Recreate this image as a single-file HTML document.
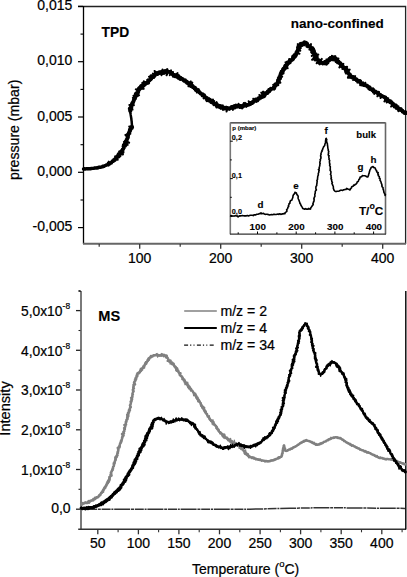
<!DOCTYPE html>
<html><head><meta charset="utf-8"><style>
html,body{margin:0;padding:0;background:#fff;width:407px;height:577px;overflow:hidden;}
svg{display:block;font-family:"Liberation Sans",sans-serif;}
text{stroke:#000;stroke-width:0.22px;}
text[font-weight="bold"]{stroke-width:0.12px;}
</style></head><body>
<svg width="407" height="577" viewBox="0 0 407 577">
<path d="M78 6.5H405.6V244" fill="none" stroke="#222" stroke-width="1.3"/>
<path d="M83.5 6V244" fill="none" stroke="#000" stroke-width="1.3"/>
<path d="M83 243.8H406" fill="none" stroke="#666" stroke-width="2"/>
<path d="M78 6.4H83" stroke="#000" stroke-width="1.2"/>
<text x="72.3" y="10.1" text-anchor="end" font-size="14" font-family="'Liberation Sans', sans-serif">0,015</text>
<path d="M78 61.7H83" stroke="#000" stroke-width="1.2"/>
<text x="72.3" y="65.4" text-anchor="end" font-size="14" font-family="'Liberation Sans', sans-serif">0,010</text>
<path d="M78 117.0H83" stroke="#000" stroke-width="1.2"/>
<text x="72.3" y="120.7" text-anchor="end" font-size="14" font-family="'Liberation Sans', sans-serif">0,005</text>
<path d="M78 172.3H83" stroke="#000" stroke-width="1.2"/>
<text x="72.3" y="176.0" text-anchor="end" font-size="14" font-family="'Liberation Sans', sans-serif">0,000</text>
<path d="M78 227.6H83" stroke="#000" stroke-width="1.2"/>
<text x="72.3" y="231.3" text-anchor="end" font-size="14" font-family="'Liberation Sans', sans-serif">-0,005</text>
<path d="M80.5 34.1H83" stroke="#000" stroke-width="1.1"/>
<path d="M80.5 89.4H83" stroke="#000" stroke-width="1.1"/>
<path d="M80.5 144.7H83" stroke="#000" stroke-width="1.1"/>
<path d="M80.5 200.0H83" stroke="#000" stroke-width="1.1"/>
<path d="M139.7 244V248.8" stroke="#333" stroke-width="1.3"/>
<text x="139.7" y="263.3" text-anchor="middle" font-size="14" font-family="'Liberation Sans', sans-serif">100</text>
<path d="M220.7 244V248.8" stroke="#333" stroke-width="1.3"/>
<text x="220.7" y="263.3" text-anchor="middle" font-size="14" font-family="'Liberation Sans', sans-serif">200</text>
<path d="M301.7 244V248.8" stroke="#333" stroke-width="1.3"/>
<text x="301.7" y="263.3" text-anchor="middle" font-size="14" font-family="'Liberation Sans', sans-serif">300</text>
<path d="M382.7 244V248.8" stroke="#333" stroke-width="1.3"/>
<text x="382.7" y="263.3" text-anchor="middle" font-size="14" font-family="'Liberation Sans', sans-serif">400</text>
<path d="M99.2 244V246.8" stroke="#333" stroke-width="1.2"/>
<path d="M180.2 244V246.8" stroke="#333" stroke-width="1.2"/>
<path d="M261.2 244V246.8" stroke="#333" stroke-width="1.2"/>
<path d="M342.2 244V246.8" stroke="#333" stroke-width="1.2"/>
<text transform="translate(18.9 129.8) rotate(-90)" text-anchor="middle" font-size="14.1" font-family="'Liberation Sans', sans-serif">pressure (mbar)</text>
<text x="101.5" y="36.8" font-size="13.8" font-weight="bold" font-family="'Liberation Sans', sans-serif">TPD</text>
<text x="290.8" y="27.6" font-size="13.5" font-weight="bold" font-family="'Liberation Sans', sans-serif">nano-confined</text>
<path d="M83.5 169.0L83.9 169.0L84.3 168.9L84.8 168.7L85.4 169.0L86.1 168.9L86.8 168.7L87.5 168.9L88.2 168.8L89.0 168.8L89.8 168.7L90.5 168.7L91.0 168.4L91.6 168.5L92.3 168.4L92.9 168.4L93.6 168.3L94.2 168.2L94.9 168.0L95.6 168.0L96.2 168.0L96.9 167.8L97.5 168.0L98.1 167.8L98.6 167.2L99.2 167.2L99.7 167.4L100.5 167.2L101.2 167.1L101.8 166.9L102.5 166.9L102.8 166.3L103.4 166.2L104.0 166.3L104.5 165.9L105.2 165.7L105.7 165.3L106.3 164.9L107.1 164.9L107.7 164.6L108.1 163.9L108.8 163.8L109.5 163.8L109.8 163.1L110.6 163.0L111.1 162.7L111.6 162.3L111.9 161.7L112.7 161.6L113.3 161.3L113.6 160.7L113.8 159.8L114.7 159.9L114.9 159.0L115.8 159.0L115.7 157.9L116.8 158.1L117.0 157.3L117.1 156.5L117.8 156.3L118.4 156.0L118.9 155.5L119.0 154.7L119.3 154.2L120.2 154.0L120.4 153.2L121.0 152.8L121.6 152.4L121.0 151.2L122.1 151.1L122.8 150.8L122.4 150.0L122.5 149.4L123.3 149.2L123.4 148.5L124.0 148.0L123.8 147.0L123.5 146.4L124.2 146.1L124.3 145.6L125.0 145.2L125.0 144.5L124.5 143.7L124.9 143.1L126.0 142.8L126.1 142.2L125.8 141.4L126.3 140.9L126.7 140.3L126.9 139.8L127.3 139.2L127.2 138.5L127.3 137.8L127.4 137.2L128.2 136.7L126.9 135.7L128.0 135.3L128.3 134.7L127.9 133.9L128.8 133.6L128.6 132.9L129.5 132.5L129.3 131.7L130.0 131.2L130.5 130.6L130.5 129.7L130.3 128.8L130.4 128.1L132.0 128.2L131.6 127.3L131.5 126.7L132.1 126.5" fill="none" stroke="#000" stroke-width="3.4" stroke-linejoin="round" stroke-linecap="round"/>
<path d="M83.5 168.9L83.8 169.2L84.1 169.1L84.4 168.8L84.8 168.8L85.2 168.8L85.7 169.0L86.2 168.8L86.7 169.0L87.2 168.4L87.8 169.1L88.3 168.7L88.9 168.9L89.4 168.7L89.9 168.6L90.5 168.7L90.9 168.7L91.3 168.5L91.8 168.4L92.3 168.6L92.7 168.2L93.2 168.0L93.7 168.3L94.2 168.1L94.7 167.8L95.2 167.9L95.7 167.9L96.2 167.7L96.7 167.6L97.2 167.8L97.7 167.9L98.1 167.6L98.5 167.5L99.0 167.6L99.4 167.6L99.7 167.3L100.3 167.4L100.9 167.3L101.3 167.0L101.7 166.7L102.2 166.8L102.6 166.6L103.0 166.6L103.2 166.0L103.6 166.0L104.0 165.8L104.4 165.5L105.0 165.7L105.5 165.6L105.8 165.2L106.5 165.4L106.9 165.1L107.4 164.9L107.8 164.7L108.7 165.6L107.9 162.6L109.5 164.7L109.9 164.5L108.7 161.6L110.6 163.6L110.6 162.7L111.8 163.4L111.2 161.9L111.9 162.0L112.5 162.0L111.9 160.5L113.5 161.6L113.3 160.6L114.1 160.9L113.6 159.6L115.4 160.8L115.3 160.0L115.0 158.9L116.0 159.4L116.9 159.6L117.8 159.8L115.1 156.3L117.6 158.3L117.6 157.6L117.4 156.7L116.9 155.6L119.3 157.3L117.3 154.7L119.4 156.0L120.4 156.3L117.8 153.5L119.4 154.3L118.6 153.1L120.5 153.9L122.2 154.5L123.0 154.4L119.1 151.4L120.7 151.8L122.3 152.3L123.5 152.4L122.5 151.3L121.4 150.1L122.8 150.4L122.6 149.8L122.6 149.4L122.2 148.7L123.7 148.9L123.8 148.4L123.5 147.6L123.6 147.0L122.5 146.1L123.6 146.2L125.8 146.6L124.3 145.5L122.9 144.5L126.5 145.4L125.7 144.5L127.7 144.8L125.4 143.4L125.0 142.7L123.9 141.8L127.5 142.6L129.2 142.7L125.2 140.7L125.6 140.3L127.3 140.4L125.7 139.3L126.5 139.2L126.6 138.7L127.4 138.5L128.6 138.4L127.4 137.5L128.7 137.4L127.2 136.5L128.2 136.3L125.3 134.9L126.3 134.7L129.2 135.2L127.6 134.2L129.2 134.3L129.3 133.8L130.4 133.8L129.9 133.2L130.3 132.9L129.2 131.9L128.7 131.1L128.9 130.5L129.4 130.2L128.9 129.3L129.8 129.1L130.6 128.9L131.2 128.7L130.8 127.9L129.2 126.5L131.5 127.3L132.0 127.2L133.1 127.4L132.7 126.8" fill="none" stroke="#000" stroke-width="2" stroke-linejoin="round" stroke-linecap="round"/>
<path d="M132.0 126.5L132.0 126.1L131.9 125.7L131.9 125.1L131.9 124.5L131.8 123.8L131.8 123.1L131.7 122.4L131.7 121.7L131.6 121.0L131.5 120.4L131.4 119.8L131.4 119.2L131.3 118.5L131.2 117.9L131.1 117.3L131.0 116.7L130.9 116.1L130.8 115.5L130.7 115.0L130.6 114.2L130.4 113.4L130.3 112.6L130.2 112.0L130.1 111.4L130.0 111.0" fill="none" stroke="#000" stroke-width="2.5" stroke-linecap="round"/>
<path d="M130.1 111.0L130.0 110.5L130.3 109.5L129.7 108.8L131.4 108.6L131.3 107.9L130.9 107.1L131.5 106.5L131.5 105.8L131.4 105.0L132.2 104.7L132.0 103.9L132.2 103.4L132.4 102.7L133.1 102.4L133.2 101.7L133.7 101.3L133.6 100.5L134.1 100.0L134.0 99.2L134.9 98.8L134.9 98.1L135.2 97.5L135.5 96.9L135.1 96.0L136.2 95.8L137.0 95.5L135.7 94.2L135.9 93.6L136.3 93.1L137.6 93.1L137.6 92.4L138.3 92.0L138.4 91.4L138.4 90.7L138.7 90.2L138.7 89.5L139.5 89.2L138.9 88.2L139.5 87.8L140.1 87.6L141.0 87.7L140.7 86.3L141.1 85.8L141.8 85.7L142.7 86.1L142.9 85.2L143.8 85.5L143.4 83.9L144.7 84.7L145.2 84.3L144.9 83.0L145.9 83.3L146.7 83.3L146.8 82.5L147.5 82.5L148.3 82.7L148.1 81.5L148.3 80.9L148.7 80.2L149.7 80.2L149.8 79.6L150.2 79.2L150.6 78.8L151.3 78.6L151.1 77.5L151.4 76.9L151.5 76.1L153.3 76.9L153.3 76.1L154.2 76.2L154.2 75.2L154.4 74.6L155.3 74.7L155.7 74.1L155.9 73.3L156.6 73.1L157.7 74.0L157.9 73.2L158.5 73.0L158.9 72.4L159.4 72.1L160.2 72.7L160.8 72.1L161.4 71.7L162.1 71.9L162.7 71.5L163.4 72.0L164.0 72.4L164.3 71.4L165.4 72.3L165.5 71.1L166.2 71.3L167.0 70.9L167.4 71.3L167.9 71.7L168.6 71.7L169.4 71.9L170.0 72.2L170.7 72.5L171.5 72.5L171.9 73.4L172.3 74.0L172.7 74.5L173.3 74.7L173.5 75.8L174.6 75.2L175.3 75.1L175.3 76.5L176.5 75.5L176.5 76.6L177.5 76.1L177.7 77.0L178.7 76.2L178.5 77.7L179.3 77.5L180.2 77.7L180.1 78.8L180.8 78.8L181.4 78.9L182.2 78.9L182.6 79.5L183.2 79.8L183.6 80.5L184.2 80.9L185.1 80.7L185.6 81.1L186.2 81.5L186.9 81.6L187.3 82.2L187.7 82.7L188.0 83.3L188.4 83.8L189.4 83.5L189.6 84.3L190.3 84.3L190.3 85.5L191.3 85.2L191.7 85.8L192.5 85.7L193.0 86.1L193.2 86.8L193.8 87.1L194.1 87.7L195.1 87.6L194.9 88.7L195.8 88.7L195.6 89.9L196.6 89.7L196.7 90.6L197.8 90.3L197.8 91.2L198.6 91.2L199.0 91.7L199.3 92.3L199.9 92.6L200.2 93.1L200.6 93.7L201.1 94.0L201.8 94.1L202.6 94.1L202.9 94.7L203.2 95.2L204.2 95.0L203.9 96.3L204.7 96.3L205.1 96.7L205.3 97.5L205.8 97.8L206.4 98.0L207.2 98.0L207.3 98.8L207.8 99.2L208.6 99.2L208.6 100.2L209.2 100.4L210.2 100.0L210.2 101.0L211.0 100.9L211.0 102.0L211.6 102.3L212.5 102.0L212.9 102.4L213.3 103.0L213.8 103.2L214.0 104.1L214.7 104.1L215.4 104.1L215.8 104.7L216.8 104.0L216.8 105.1L217.3 105.6L218.0 105.5L218.7 105.6L219.0 106.4L219.3 107.1L220.2 106.8L221.0 106.5L221.1 107.7L222.1 106.6L222.4 107.7L223.1 107.5L223.5 108.2L224.3 107.6L224.7 108.6L225.4 108.3L226.1 107.5L226.6 107.5L227.2 108.2L227.8 108.8L228.5 108.3L229.1 108.2L229.6 108.0L230.3 108.3L230.8 108.0L231.4 107.8L231.9 107.1L232.7 107.8L233.4 107.6L233.6 106.4L234.7 107.6L235.0 106.8L235.5 106.2L236.0 105.5L236.8 106.5L237.4 106.4L238.0 105.9L238.6 105.4L239.3 106.5L239.9 105.8L240.5 105.9L241.1 107.2L241.8 106.8L242.3 106.3L242.9 105.6L243.6 106.0L244.0 104.7L244.7 105.6L245.3 105.2L245.8 104.8L246.4 104.6L247.2 105.2L247.8 104.9L248.4 104.7L249.1 104.7L249.4 103.8L249.8 103.3L250.3 102.8L251.1 103.0L251.9 103.0L252.3 102.3L253.1 102.2L253.2 101.3L253.9 101.2L254.4 100.7L254.9 100.3L256.1 101.0L256.4 100.4L256.7 99.5L257.2 99.3L257.9 99.2L258.2 98.4L259.1 98.8L259.3 97.9L260.1 97.8L260.5 97.3L261.1 97.1L261.3 96.5L261.7 96.0L262.4 95.9L262.9 95.6L263.5 95.3L264.1 95.0L264.9 95.0L265.2 94.4L265.4 93.7L266.1 93.6L266.3 92.8L267.3 93.1L267.5 92.4L267.6 91.4L268.7 91.7L269.2 91.4L269.0 89.8L269.9 90.1L270.5 89.9L270.7 89.0L271.4 89.0L271.9 88.6L272.7 88.7L273.1 88.3L274.3 88.4L273.9 87.1L274.8 87.0L274.9 86.2L275.4 85.7L275.3 84.8L275.4 84.2L276.1 83.9L277.0 83.8L277.6 83.4L277.6 82.6L277.8 82.1L277.7 81.3L278.8 81.2L279.0 80.7L278.5 79.8L279.0 79.3L278.9 78.6L280.0 78.5L279.8 77.7L279.9 77.1L280.3 76.6L280.5 76.1L280.4 75.3L280.4 74.6L280.6 74.0L280.7 73.4L281.8 73.2L282.7 73.0L281.5 71.7L282.5 71.5L282.9 71.0L282.7 70.1L283.4 69.8L283.2 69.0L284.3 69.0L284.0 68.2L284.6 67.7L285.2 67.3L285.2 66.6L285.2 65.8L286.0 65.6L286.8 65.5L286.9 64.8L287.4 64.5L287.4 63.7L288.1 63.5L288.7 63.2L288.9 62.5L289.8 62.5L289.6 61.5L289.6 60.8L289.8 60.2L291.2 60.6L291.2 59.8L292.0 59.8L292.3 59.1L293.1 59.1L293.4 58.5L293.3 57.5L293.9 57.2L294.6 57.0L294.1 55.8L295.5 56.1L295.8 55.5L296.1 54.9L296.0 53.9L296.6 53.4L296.3 52.5L297.0 52.2L297.0 51.5L297.6 51.0L297.6 50.2L298.2 49.7L298.9 49.2L298.0 48.1L299.3 47.9L298.2 46.7L298.4 46.2L299.5 46.2L300.1 45.4L300.8 45.0L300.5 43.7L301.6 43.9L302.1 43.6L302.9 43.9L303.2 43.0L303.9 43.0L304.4 42.2L305.1 42.6L305.8 42.7L305.9 43.5L306.9 43.2L307.3 43.8L307.3 44.8L307.2 45.7L308.2 45.7L308.7 46.1L309.5 46.2L309.9 47.1L310.6 47.0L310.8 47.8L311.8 47.9L312.6 48.0L312.6 48.6L313.1 49.1L313.4 49.7L312.4 50.7L312.9 51.3L314.0 51.7L312.8 52.8L313.8 53.2L314.5 53.6L314.1 54.4L314.6 54.9L315.2 55.4L316.0 55.7L315.3 56.7L315.5 57.2L317.0 57.1L315.9 58.3L316.2 58.8L317.0 59.0L317.2 59.6L317.8 59.9L318.4 60.1L318.8 60.7L318.7 61.8L320.0 61.0L320.0 62.0L320.4 62.3L321.4 62.5L322.0 63.0L322.7 62.8L323.1 63.2L323.7 63.5L324.3 63.4L324.6 62.5L326.3 63.8L325.9 61.9L326.6 61.8L327.1 61.2L327.5 60.8L328.6 61.0L328.5 59.9L329.6 60.3L330.1 59.8L330.2 58.4L331.3 59.0L331.6 58.0L332.6 59.4L332.9 57.8L333.6 57.6L334.4 57.2L335.1 57.8L335.6 58.5L336.2 58.7L336.7 59.2L337.0 59.9L337.2 60.7L337.0 61.7L338.6 61.4L338.6 62.2L339.2 62.6L339.9 62.8L340.4 63.4L340.8 63.9L340.7 65.0L341.6 65.1L342.1 65.4L342.2 66.3L342.7 66.6L343.4 66.8L343.6 67.5L344.5 67.5L344.4 68.5L344.9 68.9L345.6 69.2L346.3 69.5L345.8 70.7L346.7 70.9L346.2 72.1L347.8 71.7L347.7 72.6L348.5 72.8L348.7 73.5L348.9 74.2L349.8 74.3L350.0 75.0L350.3 75.5L350.7 75.9L351.1 76.6L351.5 77.1L352.1 77.4L352.7 77.5L353.4 77.6L354.1 77.7L354.5 78.2L355.0 78.6L355.2 79.4L356.0 79.4L356.7 79.4L356.8 80.4L357.6 80.3L358.1 80.6L358.5 81.2L358.8 81.7L360.0 81.2L360.2 81.9L360.4 82.7L361.0 83.0L361.7 83.2L362.1 83.7L362.2 84.7L363.1 84.3L363.5 85.0L364.1 85.2L364.9 84.9L365.4 85.4L366.2 85.3L366.7 85.6L367.4 85.8L367.6 86.8L368.4 86.8L369.0 87.1L369.6 87.3L369.3 88.5L370.1 88.7L370.7 88.9L371.7 89.4L372.2 89.3L372.2 90.2L372.7 90.5L373.6 90.2L373.6 91.4L374.3 91.5L375.2 91.3L375.7 91.7L376.3 92.1L376.7 92.6L377.3 92.9L378.2 92.7L378.0 94.0L378.8 94.0L379.1 94.6L379.7 94.9L380.5 94.8L380.9 95.3L381.4 95.8L381.9 96.1L382.6 96.2L383.2 96.4L383.6 97.0L384.3 97.1L384.7 97.5L385.5 97.4L385.5 98.5L386.3 98.5L386.6 99.1L387.0 99.6L387.4 100.1L387.5 101.0L388.4 100.9L389.3 100.8L389.3 101.6L390.0 101.8L390.2 102.5L391.0 102.5L391.5 102.9L391.9 103.4L392.4 103.7L393.2 103.7L393.3 104.5L393.6 105.1L393.8 105.8L394.7 105.7L395.2 106.1L395.5 106.8L396.1 107.1L396.4 107.9L397.1 107.9L397.8 108.1L398.0 108.9L398.5 109.3L399.5 109.0L399.9 109.6L400.8 109.4L401.0 110.2L401.8 110.4L402.2 111.1L402.8 111.4L403.4 111.9L403.9 112.3L404.3 112.9L404.8 113.1L405.3 113.1L405.8 113.1" fill="none" stroke="#000" stroke-width="3.7" stroke-linejoin="round" stroke-linecap="round"/>
<path d="M130.0 111.0L131.3 111.2L131.1 110.5L131.3 109.7L132.5 109.6L129.3 108.5L130.0 108.2L129.3 107.6L130.8 107.5L132.2 107.3L131.1 106.5L131.9 106.2L129.3 104.9L131.8 105.2L130.8 104.3L133.9 105.2L133.1 104.3L133.4 104.0L132.5 103.0L133.4 103.0L133.7 102.6L132.8 101.6L132.9 101.1L133.5 100.9L133.1 100.3L133.3 99.9L133.9 99.6L133.5 98.9L135.4 99.2L132.9 97.7L135.8 98.3L134.2 97.2L134.5 96.8L133.5 95.8L135.4 96.1L135.5 95.6L136.3 95.4L135.5 94.5L136.6 94.5L139.1 95.2L137.4 93.8L136.4 92.7L138.6 93.3L137.4 92.1L138.6 92.2L138.8 91.7L137.7 90.7L135.8 89.3L138.1 89.8L139.6 89.9L138.5 88.8L139.8 89.0L140.7 89.0L139.1 87.4L141.4 88.7L142.0 88.9L141.7 88.1L142.1 87.9L142.4 87.6L143.7 88.9L142.4 86.0L142.7 85.5L143.5 86.0L142.6 83.9L142.4 82.8L143.4 83.4L144.8 84.6L145.3 84.5L143.8 81.8L143.8 81.2L145.6 82.7L146.1 82.6L146.6 82.5L147.6 83.0L148.5 83.4L147.8 82.0L148.5 82.1L147.2 79.9L147.5 79.5L149.3 80.7L150.2 80.7L150.5 80.5L150.7 80.1L151.2 80.0L151.5 79.7L149.0 76.7L150.5 77.4L152.1 78.3L152.6 78.0L150.6 75.5L153.9 77.9L152.5 75.9L153.1 75.8L153.9 76.0L154.7 76.3L152.9 73.5L155.5 76.1L155.1 74.7L154.8 73.3L155.6 73.7L154.6 71.0L156.2 72.7L157.2 73.6L157.0 72.2L157.7 72.5L158.2 72.6L158.7 72.7L159.6 74.0L159.5 72.4L159.9 71.9L160.7 73.0L161.5 75.2L161.5 71.5L162.2 72.7L162.5 69.6L163.2 73.9L163.6 72.9L164.2 73.8L164.4 71.7L164.5 70.2L166.0 72.7L166.2 72.4L166.3 69.9L167.3 69.1L167.1 72.0L167.7 71.3L166.6 75.3L168.9 71.0L169.3 71.4L169.5 72.2L171.0 70.3L171.0 71.6L169.8 75.2L171.4 73.1L172.2 72.7L173.1 72.0L172.2 74.7L172.6 75.0L173.3 74.7L174.2 74.1L174.1 75.3L174.5 75.6L175.7 74.5L175.1 76.4L177.5 73.0L177.3 74.3L176.9 75.8L177.2 76.3L178.4 75.1L177.7 77.3L177.5 78.4L178.3 77.8L178.9 77.7L178.8 78.8L179.8 78.4L181.0 77.0L180.8 78.2L180.3 79.9L182.1 77.7L181.8 79.1L182.5 78.9L183.2 78.6L183.7 78.8L183.5 80.2L183.8 80.7L184.2 80.9L185.7 79.4L185.4 80.9L185.5 81.8L185.5 82.7L186.0 82.6L186.3 83.0L186.5 83.6L187.1 83.5L188.6 82.1L188.4 83.3L189.3 82.8L190.8 81.4L190.7 82.3L188.5 86.3L191.1 83.5L192.3 82.6L191.6 84.5L190.4 86.9L191.9 85.7L192.0 86.4L192.8 86.0L193.0 86.5L192.3 88.0L193.0 87.9L194.1 87.4L193.6 88.6L193.8 89.0L195.2 88.2L195.1 88.9L195.5 89.3L196.6 88.8L195.4 90.7L196.8 89.8L197.5 89.7L198.7 89.1L198.7 89.8L196.9 92.6L199.3 90.5L198.4 92.2L199.4 91.8L199.1 92.9L199.4 93.3L200.8 92.3L200.8 93.0L200.9 93.7L201.2 94.0L201.7 94.1L202.3 94.1L202.0 95.3L201.8 96.2L202.7 95.8L204.1 94.8L203.6 96.2L204.2 96.2L204.3 96.8L203.6 98.4L205.5 96.8L205.7 97.3L206.7 96.8L206.6 97.6L207.2 97.7L205.9 99.9L207.2 99.1L208.3 98.5L206.7 101.2L209.5 98.4L208.3 100.8L208.5 101.2L209.2 101.1L210.2 100.5L210.4 100.9L210.9 101.0L210.6 102.3L213.0 99.5L212.2 101.6L212.1 102.5L213.0 102.0L214.2 101.0L213.6 102.8L214.3 102.5L213.7 104.3L213.7 105.2L214.9 104.0L216.5 102.1L215.9 104.2L216.7 103.6L216.1 105.5L216.0 106.8L217.2 105.6L216.6 107.6L217.4 107.3L218.3 106.7L219.5 105.2L219.4 106.6L220.6 105.1L219.8 108.0L220.7 107.2L220.6 108.8L221.5 107.8L222.8 105.4L222.3 108.5L222.7 108.9L223.0 109.9L224.1 107.0L224.6 107.1L224.8 108.3L225.4 107.1L225.9 106.7L226.3 107.1L226.6 111.6L227.2 107.7L227.6 107.2L228.1 107.9L228.6 108.4L229.3 109.9L229.7 109.4L230.2 109.1L230.4 108.1L230.9 108.2L231.1 107.1L231.2 106.0L232.9 109.9L232.5 106.9L233.5 108.4L233.4 106.8L233.9 106.9L234.4 106.7L234.4 105.1L235.3 106.5L235.8 106.9L236.3 107.4L236.7 106.9L237.2 107.5L237.6 106.6L238.1 106.2L238.5 103.8L239.0 105.5L239.5 108.0L240.0 106.3L240.5 107.1L240.9 105.9L241.3 105.3L242.1 108.5L242.4 106.4L243.0 107.7L243.3 106.5L243.7 105.5L243.8 103.1L244.7 105.8L244.8 103.7L245.1 102.9L246.4 106.9L246.8 106.1L247.2 105.9L247.5 105.1L247.9 104.8L248.6 105.2L248.9 104.7L249.3 104.4L250.1 104.9L248.7 101.3L251.1 104.6L250.5 102.7L251.9 104.0L252.5 104.1L251.6 101.8L253.1 103.1L253.5 102.9L252.9 101.1L253.5 101.0L254.3 101.4L253.3 98.7L254.8 100.3L255.5 100.8L255.6 99.9L255.4 98.4L256.4 99.5L257.9 101.3L258.2 100.9L257.8 99.2L257.8 98.2L258.7 98.8L259.1 98.6L259.1 97.7L259.7 97.8L260.7 98.5L261.3 98.5L259.4 95.0L262.1 98.0L261.9 96.9L263.0 97.6L262.5 96.2L263.2 96.3L264.5 97.1L261.3 92.6L265.2 96.5L264.5 94.9L263.3 92.7L263.0 91.6L265.7 94.1L265.0 92.5L266.9 94.1L266.7 93.1L266.8 92.5L268.0 93.3L267.8 92.2L268.6 92.5L269.1 92.3L269.1 91.5L269.8 91.7L270.2 91.4L269.2 89.0L270.3 89.8L270.8 89.7L271.0 89.2L270.5 87.8L271.6 88.5L272.6 89.1L272.8 88.7L274.2 89.5L272.9 87.3L273.3 87.1L273.5 86.7L274.1 86.5L274.1 86.0L273.2 84.7L275.6 86.0L276.4 86.1L276.8 85.8L274.9 83.9L276.0 84.2L278.3 85.2L276.6 83.5L277.3 83.4L277.1 82.6L278.5 82.9L278.8 82.5L280.4 82.8L278.7 81.3L278.9 80.9L277.3 79.6L278.3 79.6L278.2 78.9L278.8 78.7L277.9 77.9L280.9 78.6L278.5 77.2L280.1 77.4L278.6 76.3L280.6 76.6L282.2 76.7L279.6 75.2L281.1 75.3L280.8 74.6L281.4 74.3L281.7 74.0L280.8 73.1L281.5 72.9L281.3 72.2L281.2 71.6L281.0 71.0L283.6 71.7L282.0 70.3L283.8 70.7L283.9 70.2L282.5 68.9L284.8 69.7L283.1 68.1L284.8 68.7L285.9 68.8L284.1 67.0L284.2 66.4L284.4 66.0L287.7 68.1L285.5 65.8L285.0 64.7L287.2 66.0L286.6 64.9L287.0 64.7L286.4 63.6L285.5 62.3L287.2 63.1L287.3 62.5L287.0 61.6L287.8 61.7L288.3 61.4L290.2 62.4L290.4 61.9L290.7 61.5L289.8 60.2L289.4 59.0L291.4 60.3L291.9 60.1L292.8 60.4L292.0 59.0L292.2 58.6L293.1 58.7L292.0 57.1L292.5 56.8L294.4 57.9L292.5 55.7L294.1 56.5L295.4 57.0L295.1 56.1L295.6 55.9L294.0 54.2L295.5 54.6L295.6 54.0L297.0 54.3L297.1 53.6L296.7 53.0L299.5 53.8L297.8 52.5L296.8 51.6L296.6 50.9L297.6 50.8L297.0 50.1L300.3 50.8L299.0 49.7L297.9 48.8L297.6 48.1L297.2 47.5L298.5 47.5L300.9 48.1L300.4 47.4L299.4 46.5L299.8 46.3L297.7 44.1L301.2 46.0L300.4 44.6L302.4 46.0L301.1 44.0L301.2 43.4L302.1 44.0L301.8 42.7L303.6 45.1L303.3 43.5L303.8 43.4L304.2 43.3L304.7 42.2L305.0 43.5L305.6 43.2L304.5 45.3L306.3 43.5L306.3 44.2L307.5 43.7L307.8 44.2L308.0 44.7L306.6 46.7L308.3 45.9L307.9 47.3L309.4 46.0L309.8 46.1L311.0 44.0L310.1 48.0L309.4 49.7L311.6 47.2L310.1 49.2L310.8 48.8L313.1 48.1L311.2 49.3L313.7 48.8L313.0 49.6L311.0 50.8L312.7 50.7L314.7 50.6L311.2 52.3L314.9 51.6L313.8 52.5L314.2 52.9L314.1 53.5L315.2 53.5L316.4 53.4L311.8 55.9L315.9 54.7L316.0 55.2L318.3 54.6L315.0 56.6L313.6 57.8L313.7 58.3L312.1 59.8L314.0 59.3L315.7 58.8L316.4 58.9L315.0 60.5L317.0 59.6L317.2 60.2L318.7 59.3L318.0 60.8L316.7 63.3L319.0 61.2L319.0 62.1L321.8 58.9L318.9 63.7L320.1 62.8L319.6 64.4L321.1 63.3L322.4 62.2L323.0 61.7L322.5 64.4L323.1 63.7L323.2 62.2L323.9 63.4L324.0 62.4L325.4 63.9L324.9 62.2L324.7 60.9L326.1 62.0L326.0 61.2L328.3 63.3L326.8 60.7L326.4 59.4L328.0 60.5L328.2 60.0L329.0 60.3L329.4 59.9L328.8 58.1L330.0 59.0L330.4 58.7L330.1 57.0L331.1 57.5L331.9 58.4L331.9 55.7L332.6 56.3L333.2 57.2L333.7 57.8L333.9 58.8L335.3 56.2L334.8 58.7L334.9 59.4L334.2 60.6L336.6 58.8L337.5 58.7L338.5 58.6L336.3 60.8L335.7 61.9L338.4 60.6L337.4 62.0L337.2 62.8L337.4 63.3L339.2 62.3L338.5 63.7L339.5 63.3L340.7 62.6L339.9 64.3L340.1 64.7L341.8 63.5L340.7 65.4L339.4 67.4L343.4 63.9L341.4 66.6L341.6 67.2L342.8 66.6L342.9 67.2L343.8 67.0L342.4 69.0L345.3 67.0L344.7 68.2L347.1 66.7L344.9 69.2L345.2 69.6L347.4 68.4L346.9 69.4L346.0 70.8L347.2 70.4L348.2 70.2L349.7 69.6L347.3 72.1L346.1 73.6L348.6 72.3L348.1 73.3L348.4 73.7L349.1 73.7L349.2 74.2L349.5 74.6L350.7 74.2L347.9 77.2L348.0 77.8L350.5 76.1L349.7 77.8L352.1 75.8L352.1 76.6L351.5 78.2L353.4 76.1L353.9 76.2L353.2 78.1L355.2 76.1L353.1 80.0L354.1 79.3L354.8 79.1L354.9 79.8L356.4 78.5L356.8 78.7L356.0 80.7L356.3 81.1L357.2 80.6L357.7 80.7L358.4 80.4L357.4 82.6L359.8 80.0L359.7 80.9L359.9 81.5L361.0 80.8L361.2 81.3L361.4 81.9L360.3 84.1L360.1 85.2L361.6 84.1L363.3 82.4L363.0 83.7L363.1 84.4L363.6 84.4L364.0 84.4L364.2 85.5L365.3 82.8L365.4 84.5L365.5 85.5L365.7 86.3L366.3 86.0L366.9 86.0L367.4 86.1L368.3 85.9L368.2 87.0L368.8 87.0L369.6 86.8L368.6 88.9L368.9 89.1L370.5 88.1L369.8 89.1L369.5 89.9L370.7 89.5L371.4 89.8L371.5 90.3L373.1 88.3L373.3 88.7L372.5 91.0L373.1 91.0L372.9 92.4L374.4 90.6L373.9 92.6L374.4 92.8L374.3 94.0L376.4 91.3L376.6 92.1L376.7 93.0L377.1 93.2L378.3 92.2L378.4 92.8L379.2 92.3L377.4 96.3L379.2 94.1L379.6 94.4L380.4 94.0L380.3 94.9L380.2 95.9L381.3 95.0L381.5 95.6L380.5 98.0L381.7 97.0L382.5 96.6L383.4 96.2L383.4 96.9L384.3 96.5L384.0 97.7L385.0 97.1L385.4 97.3L385.6 97.9L386.4 97.6L385.8 99.1L384.4 101.5L387.2 98.9L388.3 98.2L386.7 100.9L387.9 100.2L386.7 102.5L388.3 101.3L388.2 102.1L389.8 100.8L390.8 100.3L390.1 101.9L389.8 103.0L391.4 101.8L392.3 101.5L391.9 102.7L392.1 103.1L392.4 103.5L392.5 104.0L391.1 106.6L393.2 104.7L393.9 104.5L394.7 104.2L393.7 106.2L395.8 104.2L394.0 107.4L395.4 106.3L396.9 105.1L396.1 107.1L396.7 107.0L396.1 108.6L398.4 106.2L397.6 108.2L398.2 108.2L397.9 109.4L399.7 107.7L399.9 108.3L398.4 111.2L399.7 110.1L401.5 108.4L400.7 110.4L401.9 109.7L402.3 110.1L403.1 109.9L402.0 112.4L403.5 111.2L403.4 112.2L403.9 112.4L405.4 111.1L405.3 112.1L404.5 113.8L406.4 111.7L405.4 113.7" fill="none" stroke="#000" stroke-width="2" stroke-linejoin="round" stroke-linecap="round"/>
<rect x="230.2" y="122.7" width="155.3" height="111.5" fill="#fff" stroke="none"/>
<path d="M230.2 122.9H385.6" fill="none" stroke="#222" stroke-width="1.2"/>
<path d="M230.3 234.3V122.5" fill="none" stroke="#777" stroke-width="1.6"/>
<path d="M385.5 122.5V234.2" fill="none" stroke="#666" stroke-width="1.6"/>
<path d="M230 234.2H386" fill="none" stroke="#333" stroke-width="1.3"/>
<path d="M230.2 141.2H232.8" stroke="#000" stroke-width="1"/>
<path d="M230.2 178.6H232.8" stroke="#000" stroke-width="1"/>
<path d="M230.2 216.0H232.8" stroke="#000" stroke-width="1"/>
<path d="M230.2 159.9H231.8" stroke="#000" stroke-width="1"/>
<path d="M230.2 197.3H231.8" stroke="#000" stroke-width="1"/>
<path d="M257.5 234V231.5" stroke="#000" stroke-width="1"/>
<text x="257.8" y="230.3" text-anchor="middle" font-size="9.8" font-weight="bold" font-family="'Liberation Sans', sans-serif">100</text>
<path d="M296.2 234V231.5" stroke="#000" stroke-width="1"/>
<text x="296.5" y="230.3" text-anchor="middle" font-size="9.8" font-weight="bold" font-family="'Liberation Sans', sans-serif">200</text>
<path d="M334.9 234V231.5" stroke="#000" stroke-width="1"/>
<text x="335.2" y="230.3" text-anchor="middle" font-size="9.8" font-weight="bold" font-family="'Liberation Sans', sans-serif">300</text>
<path d="M373.6 234V231.5" stroke="#000" stroke-width="1"/>
<text x="373.9" y="230.3" text-anchor="middle" font-size="9.8" font-weight="bold" font-family="'Liberation Sans', sans-serif">400</text>
<path d="M238.2 234V232.3" stroke="#000" stroke-width="1"/>
<path d="M276.9 234V232.3" stroke="#000" stroke-width="1"/>
<path d="M315.6 234V232.3" stroke="#000" stroke-width="1"/>
<path d="M354.2 234V232.3" stroke="#000" stroke-width="1"/>
<text x="232.3" y="130.3" font-size="6.0" font-weight="bold" font-family="'Liberation Sans', sans-serif">p (mbar)</text>
<text x="231.8" y="139.6" font-size="7.3" font-weight="bold" font-family="'Liberation Sans', sans-serif">0,2</text>
<text x="231.8" y="177.8" font-size="7.3" font-weight="bold" font-family="'Liberation Sans', sans-serif">0,1</text>
<text x="231.8" y="214.2" font-size="7.3" font-weight="bold" font-family="'Liberation Sans', sans-serif">0,0</text>
<text x="356.3" y="138.1" font-size="9.6" font-weight="bold" font-family="'Liberation Sans', sans-serif">bulk</text>
<text x="260.4" y="207.9" text-anchor="middle" font-size="9.8" font-weight="bold" font-family="'Liberation Sans', sans-serif">d</text>
<text x="296" y="189" text-anchor="middle" font-size="9.8" font-weight="bold" font-family="'Liberation Sans', sans-serif">e</text>
<text x="326.2" y="133.5" text-anchor="middle" font-size="9.8" font-weight="bold" font-family="'Liberation Sans', sans-serif">f</text>
<text x="360.5" y="170.3" text-anchor="middle" font-size="9.8" font-weight="bold" font-family="'Liberation Sans', sans-serif">g</text>
<text x="373.5" y="162.5" text-anchor="middle" font-size="9.8" font-weight="bold" font-family="'Liberation Sans', sans-serif">h</text>
<text x="358.9" y="214.6" font-size="11.8" font-weight="bold" font-family="'Liberation Sans', sans-serif">T/<tspan dy="-5.3" font-size="8.8">o</tspan><tspan dy="5.3">C</tspan></text>
<path d="M230.5 216.7L231.0 215.6L231.6 216.3L232.4 216.0L233.3 216.0L234.2 216.1L235.1 215.6L236.1 216.0L237.1 215.9L238.1 216.9L239.0 216.1L239.8 215.9L240.7 215.9L241.6 215.8L242.5 215.6L243.4 215.8L244.3 215.9L245.1 215.7L246.0 216.0L246.8 215.6L247.7 215.6L248.6 215.9L249.5 215.6L250.4 215.3L251.4 215.2L252.3 215.3L253.2 215.6L254.0 214.9L254.8 214.8L255.5 215.0L256.5 214.3L257.3 214.2L258.1 214.2L258.7 213.9L259.4 213.6L260.2 213.7L261.0 212.8L261.8 213.9L262.6 213.5L263.5 213.4L264.3 214.0L265.1 214.4L266.1 214.3L267.3 214.3L268.0 214.6L268.8 214.6L269.6 215.0L270.5 214.8L271.5 214.6L272.4 214.8L273.4 214.4L274.3 214.2L275.2 214.5L276.1 214.5L277.0 214.3L278.0 214.1L278.9 214.4L279.8 213.7L280.8 214.4L281.6 214.3L282.3 213.7L283.0 214.0L284.0 213.5L285.0 213.6L285.1 212.6L285.8 212.2L286.5 211.7L287.0 211.0L286.6 209.8L287.3 209.0L287.8 208.2L287.9 207.2L288.7 206.6L288.4 205.5L289.0 204.8L289.0 203.8L289.9 203.3L289.9 202.4L290.3 201.4L290.5 200.5L291.8 200.2L292.1 199.2L292.4 198.5L292.8 197.7L292.9 196.8L293.0 195.9L293.3 195.1L293.6 194.5L294.7 193.7L294.9 192.4L295.8 192.5L296.3 192.9L296.6 193.7L296.9 194.6L297.7 195.4L298.2 196.3L298.1 197.3L298.1 198.2L298.4 199.0L298.8 199.9L299.2 200.8L299.4 201.7L299.8 202.4L299.9 203.4L300.6 204.1L300.8 205.0L301.3 205.7L301.6 206.5L302.3 207.2L302.7 208.4L303.7 208.8L304.6 209.3L305.6 208.6L306.4 209.1L307.2 209.0L308.1 209.2L308.7 208.4L309.8 209.2L310.6 208.9L310.8 207.7L311.2 207.3L311.6 206.7L312.1 206.1L312.5 205.4L313.2 204.7L312.9 203.5L313.5 202.5L313.5 201.8L314.0 201.2L314.0 200.5L314.3 199.8L313.8 198.9L314.2 198.1L314.2 197.3L314.9 196.6L314.9 195.7L314.8 194.8L314.9 193.9L315.3 193.1L315.2 192.1L315.3 191.3L315.8 190.6L316.4 189.9L315.9 189.0L315.9 188.2L315.9 187.4L316.0 186.5L316.6 185.8L316.8 185.0L316.7 184.1L317.0 183.3L317.0 182.5L317.2 181.6L316.9 180.7L317.3 179.9L317.6 179.0L317.5 178.1L317.7 177.3L317.7 176.5L318.0 175.7L318.4 174.9L318.2 174.0L318.4 173.1L318.8 172.3L318.8 171.4L319.2 170.6L318.4 169.6L319.3 168.8L319.1 167.9L319.3 167.1L319.6 166.3L319.8 165.5L319.9 164.7L319.8 164.0L320.2 163.3L319.8 162.6L320.0 161.5L320.4 160.5L320.1 159.5L320.9 158.7L320.7 157.8L321.1 157.1L320.6 156.2L320.6 155.5L320.9 154.9L321.1 154.3L320.9 153.7L321.3 152.5L321.5 151.8L322.1 151.3L321.9 150.3L322.6 149.8L322.7 148.9L323.0 148.2L323.4 147.4L323.7 146.6L324.3 146.0L324.8 145.2L324.9 144.2L325.2 143.3L325.6 142.5L325.5 141.6L325.7 140.2L325.8 138.8L326.3 138.3L326.1 139.1L326.8 139.5L326.4 140.3L326.7 141.1L326.6 142.1L327.1 143.0L327.5 144.0L327.4 145.0L327.7 146.0L327.7 146.7L327.8 147.5L327.9 148.2L328.0 149.0L328.3 149.8L328.2 150.6L328.8 151.4L328.4 152.3L328.7 153.2L328.2 154.1L328.3 155.1L329.2 155.9L328.7 156.7L328.9 157.5L329.2 158.2L328.9 159.1L329.3 159.9L329.7 160.7L329.4 161.5L329.5 162.4L329.5 163.2L330.0 164.1L329.6 165.0L329.7 165.8L330.3 166.6L330.3 167.5L330.2 168.4L330.4 169.2L330.0 170.1L330.5 170.9L330.9 171.7L330.9 172.6L330.8 173.5L330.4 174.5L331.1 175.3L331.1 176.2L331.1 177.1L331.4 177.9L330.9 178.8L331.7 179.5L331.6 180.4L331.8 181.1L331.8 181.8L332.4 182.4L331.9 183.6L332.5 184.5L332.7 185.4L333.2 186.2L333.4 187.1L333.3 187.9L333.4 188.6L333.7 189.2L333.8 189.8L334.1 190.3L334.9 191.1L335.6 191.5L336.5 191.4L337.3 191.2L338.2 191.2L339.2 191.0L340.1 190.5L340.9 190.1L341.8 190.2L342.7 190.5L343.4 189.9L344.2 189.8L345.0 189.5L346.0 189.5L346.6 188.4L347.5 188.8L348.2 189.3L349.1 189.4L349.9 190.0L350.4 189.3L350.7 188.6L351.4 188.0L351.6 187.0L352.4 186.4L353.4 186.1L353.6 185.1L354.8 185.1L355.3 184.2L356.2 183.9L356.8 183.2L357.1 182.1L357.8 181.8L358.4 181.2L358.6 180.3L358.9 179.5L359.7 178.9L359.9 178.1L360.0 177.3L360.7 176.9L361.8 176.4L362.4 175.6L363.3 175.7L364.0 175.8L364.9 175.8L366.0 176.2L366.8 176.7L367.4 177.0L368.0 176.7L368.2 175.9L368.6 175.1L368.7 174.1L369.2 173.1L369.3 172.2L369.6 171.4L369.8 170.4L370.1 169.5L370.7 168.8L370.9 168.0L371.3 167.3L372.0 167.1L373.0 166.5L373.7 167.6L374.5 167.6L375.3 168.1L375.5 169.2L376.2 170.3L376.7 170.8L376.6 171.7L377.4 172.2L378.2 172.7L377.7 173.9L378.4 174.6L378.2 175.6L379.1 176.3L379.5 177.1L379.2 178.2L380.1 178.7L380.1 179.5L380.0 180.4L380.6 181.1L380.9 181.8L381.2 182.7L381.3 183.5L381.9 184.2L381.8 185.1L382.1 185.9L381.9 186.7L382.8 187.3L383.1 187.9L383.0 189.0L383.5 189.8L383.6 190.8L383.9 191.7L383.9 192.6L384.6 193.3L384.7 194.1L385.4 194.6L385.2 195.3L384.7 195.9" fill="none" stroke="#000" stroke-width="1.6" stroke-linejoin="round"/>
<path d="M81 291V529.5" fill="none" stroke="#7a7a7a" stroke-width="2"/>
<path d="M78.2 529.3H406" fill="none" stroke="#333" stroke-width="1.6"/>
<path d="M405.8 291V529.5" fill="none" stroke="#000" stroke-width="1.4"/>
<path d="M76 509.2H80.5" stroke="#222" stroke-width="1.3"/>
<text x="70.6" y="513.1" text-anchor="end" font-size="14" font-family="'Liberation Sans', sans-serif">0,0</text>
<path d="M76 469.5H80.5" stroke="#222" stroke-width="1.3"/>
<text x="62.4" y="474.9" text-anchor="end" font-size="13.8" font-family="'Liberation Sans', sans-serif">1,0x10</text>
<text x="62.6" y="467.9" font-size="8.4" font-family="'Liberation Sans', sans-serif">-8</text>
<path d="M76 429.8H80.5" stroke="#222" stroke-width="1.3"/>
<text x="62.4" y="435.2" text-anchor="end" font-size="13.8" font-family="'Liberation Sans', sans-serif">2,0x10</text>
<text x="62.6" y="428.2" font-size="8.4" font-family="'Liberation Sans', sans-serif">-8</text>
<path d="M76 390.0H80.5" stroke="#222" stroke-width="1.3"/>
<text x="62.4" y="395.4" text-anchor="end" font-size="13.8" font-family="'Liberation Sans', sans-serif">3,0x10</text>
<text x="62.6" y="388.4" font-size="8.4" font-family="'Liberation Sans', sans-serif">-8</text>
<path d="M76 350.3H80.5" stroke="#222" stroke-width="1.3"/>
<text x="62.4" y="355.7" text-anchor="end" font-size="13.8" font-family="'Liberation Sans', sans-serif">4,0x10</text>
<text x="62.6" y="348.7" font-size="8.4" font-family="'Liberation Sans', sans-serif">-8</text>
<path d="M76 310.6H80.5" stroke="#222" stroke-width="1.3"/>
<text x="62.4" y="316.0" text-anchor="end" font-size="13.8" font-family="'Liberation Sans', sans-serif">5,0x10</text>
<text x="62.6" y="309.0" font-size="8.4" font-family="'Liberation Sans', sans-serif">-8</text>
<path d="M78.5 489.3H80.5" stroke="#222" stroke-width="1.1"/>
<path d="M78.5 449.6H80.5" stroke="#222" stroke-width="1.1"/>
<path d="M78.5 409.9H80.5" stroke="#222" stroke-width="1.1"/>
<path d="M78.5 370.2H80.5" stroke="#222" stroke-width="1.1"/>
<path d="M78.5 330.5H80.5" stroke="#222" stroke-width="1.1"/>
<path d="M78.5 290.7H80.5" stroke="#222" stroke-width="1.1"/>
<path d="M78.5 291.3H81" stroke="#222" stroke-width="1.1"/>
<path d="M97.8 529.5V534.3" stroke="#333" stroke-width="1.3"/>
<text x="97.8" y="548.2" text-anchor="middle" font-size="14" font-family="'Liberation Sans', sans-serif">50</text>
<path d="M138.4 529.5V534.3" stroke="#333" stroke-width="1.3"/>
<text x="138.4" y="548.2" text-anchor="middle" font-size="14" font-family="'Liberation Sans', sans-serif">100</text>
<path d="M178.9 529.5V534.3" stroke="#333" stroke-width="1.3"/>
<text x="178.9" y="548.2" text-anchor="middle" font-size="14" font-family="'Liberation Sans', sans-serif">150</text>
<path d="M219.5 529.5V534.3" stroke="#333" stroke-width="1.3"/>
<text x="219.5" y="548.2" text-anchor="middle" font-size="14" font-family="'Liberation Sans', sans-serif">200</text>
<path d="M260.1 529.5V534.3" stroke="#333" stroke-width="1.3"/>
<text x="260.1" y="548.2" text-anchor="middle" font-size="14" font-family="'Liberation Sans', sans-serif">250</text>
<path d="M300.6 529.5V534.3" stroke="#333" stroke-width="1.3"/>
<text x="300.6" y="548.2" text-anchor="middle" font-size="14" font-family="'Liberation Sans', sans-serif">300</text>
<path d="M341.2 529.5V534.3" stroke="#333" stroke-width="1.3"/>
<text x="341.2" y="548.2" text-anchor="middle" font-size="14" font-family="'Liberation Sans', sans-serif">350</text>
<path d="M381.8 529.5V534.3" stroke="#333" stroke-width="1.3"/>
<text x="381.8" y="548.2" text-anchor="middle" font-size="14" font-family="'Liberation Sans', sans-serif">400</text>
<path d="M118.1 529.5V532.3" stroke="#333" stroke-width="1.1"/>
<path d="M158.6 529.5V532.3" stroke="#333" stroke-width="1.1"/>
<path d="M199.2 529.5V532.3" stroke="#333" stroke-width="1.1"/>
<path d="M239.8 529.5V532.3" stroke="#333" stroke-width="1.1"/>
<path d="M280.4 529.5V532.3" stroke="#333" stroke-width="1.1"/>
<path d="M320.9 529.5V532.3" stroke="#333" stroke-width="1.1"/>
<path d="M361.5 529.5V532.3" stroke="#333" stroke-width="1.1"/>
<path d="M402.1 529.5V532.3" stroke="#333" stroke-width="1.1"/>
<text x="192" y="574.4" font-size="14" font-family="'Liberation Sans', sans-serif">Temperature (<tspan dy="-7.3" font-size="9.5">o</tspan><tspan dy="7.3">C)</tspan></text>
<text transform="translate(10 408.5) rotate(-90)" text-anchor="middle" font-size="14.6" font-family="'Liberation Sans', sans-serif">Intensity</text>
<text x="98.3" y="320.6" font-size="14.6" font-weight="bold" font-family="'Liberation Sans', sans-serif">MS</text>
<path d="M184.2 311H216.8" stroke="#808080" stroke-width="1.6"/>
<path d="M184.2 328.1H216.8" stroke="#000" stroke-width="2"/>
<path d="M184.1 345.2H213.8" stroke="#111" stroke-width="1.2" stroke-dasharray="4 2 1.2 2.2 1 2.4"/>
<text x="220.4" y="315.6" font-size="14.1" font-family="'Liberation Sans', sans-serif">m/z = 2</text>
<text x="220.4" y="332.6" font-size="14.1" font-family="'Liberation Sans', sans-serif">m/z = 4</text>
<text x="220.4" y="349.6" font-size="14.1" font-family="'Liberation Sans', sans-serif">m/z = 34</text>
<path d="M81 509.3L250 509.2L290 508.3L320 507.7L350 507.9L405 508.4" fill="none" stroke="#333" stroke-width="1.5" stroke-dasharray="16 0.8 3 0.8 9 0.8 2 0.8"/>
<path d="M81.1 503.9L81.5 504.0L82.1 504.6L82.6 504.1L82.9 503.0L83.7 503.5L84.2 503.1L84.9 503.2L85.3 502.3L86.0 502.9L86.5 502.7L87.2 503.1L87.5 502.4L88.0 502.4L88.1 501.4L89.1 502.7L89.0 500.9L90.0 501.8L90.2 501.1L90.6 500.7L91.1 500.6L91.6 500.3L92.2 500.5L92.7 500.1L93.5 500.4L93.3 499.0L94.2 499.3L94.5 498.7L95.3 499.0L95.1 497.7L95.9 498.1L96.4 497.9L96.5 497.1L97.5 497.6L97.7 497.0L98.4 496.9L98.8 496.5L98.7 495.6L99.1 495.3L99.6 495.0L100.3 494.9L100.6 494.6L100.5 493.8L100.8 493.4L101.1 492.9L101.4 492.6L101.9 492.2L102.2 491.8L103.2 491.8L102.6 490.8L103.0 490.5L103.5 490.2L103.3 489.5L103.8 489.2L104.2 488.8L104.7 488.5L104.3 487.6L105.5 487.7L105.1 486.9L105.5 486.6L106.0 486.3L106.2 485.8L106.6 485.4L106.6 484.7L106.7 484.3L107.1 483.9L106.9 483.2L107.9 483.2L107.4 482.3L107.5 481.8L108.9 481.9L108.4 481.1L108.2 480.4L109.5 480.5L109.0 479.7L109.7 479.4L109.2 478.7L109.6 478.3L109.3 477.6L109.3 477.1L109.9 476.7L110.4 476.3L110.9 475.9L111.6 475.6L110.4 474.8L111.4 474.5L110.9 473.9L111.2 473.4L110.8 472.8L111.0 472.3L111.4 471.9L111.4 471.4L112.0 471.0L111.8 470.5L112.7 470.2L112.4 469.6L112.5 469.1L113.1 468.7L113.0 468.1L112.9 467.6L113.0 467.1L113.1 466.7L113.7 466.4L113.8 465.9L113.7 465.3L114.1 464.9L113.7 464.3L114.3 463.9L113.7 463.1L114.9 462.9L114.6 462.2L114.8 461.6L115.1 461.1L115.0 460.6L115.1 460.1L115.8 459.8L115.5 459.1L115.3 458.5L115.9 458.1L115.3 457.3L116.7 457.2L116.2 456.4L116.4 455.9L117.5 455.6L117.6 455.1L117.0 454.3L117.3 453.8L117.6 453.4L118.0 453.0L117.5 452.3L117.7 451.8L118.2 451.5L118.0 451.0L118.4 450.4L118.5 449.8L118.0 449.1L118.3 448.6L117.7 447.9L118.8 447.8L119.5 447.5L118.7 446.8L119.7 446.7L119.8 446.1L119.6 445.5L119.8 445.0L119.9 444.6L119.8 444.0L120.1 443.7L120.4 443.2L120.8 442.9L121.1 442.4L120.7 441.7L121.5 441.4L121.0 440.7L121.5 440.2L121.9 439.7L121.9 439.0L122.0 438.6L122.2 438.2L122.0 437.7L122.1 437.2L122.4 436.8L123.0 436.4L122.7 435.8L123.6 435.5L123.1 434.8L122.0 434.0L123.1 433.7L124.0 433.4L123.5 432.7L123.4 432.2L123.4 431.6L124.4 431.3L124.4 430.7L124.4 430.2L124.4 429.6L124.9 429.2L124.8 428.7L124.1 428.0L125.1 427.7L124.9 427.1L125.0 426.6L125.4 426.2L125.3 425.7L124.3 424.9L126.1 424.8L126.0 424.3L125.7 423.7L125.8 423.2L126.1 422.7L125.7 422.1L126.4 421.8L126.3 421.2L126.4 420.7L126.3 420.1L126.5 419.7L127.4 419.3L127.6 418.8L127.4 418.2L127.3 417.7L127.1 417.2L127.8 416.8L128.3 416.4L127.2 415.6L128.4 415.4L127.2 414.6L128.1 414.3L128.5 413.8L127.9 413.2L128.0 412.7L128.8 412.3L129.2 411.9L128.8 411.3L129.6 410.9L128.9 410.2L130.0 410.0L129.5 409.3L129.6 408.8L129.9 408.4L129.9 407.9L130.6 407.5L130.9 407.1L130.3 406.4L130.2 405.9L129.9 405.3L130.2 404.8L130.6 404.4L130.6 403.9L130.8 403.4L130.9 402.9L131.2 402.4L130.6 401.8L130.8 401.3L131.7 401.0L131.7 400.5L131.3 399.9L132.1 399.5L131.4 398.9L131.6 398.5L131.1 397.9L132.3 397.6L132.0 397.0L132.5 396.6L132.5 396.0L132.3 395.5L132.4 395.0L132.9 394.5L132.4 393.9L132.5 393.4L132.7 392.9L133.0 392.4L133.1 391.9L133.6 391.4L132.9 390.8L133.5 390.3L132.8 389.7L133.3 389.3L133.2 388.8L133.9 388.4L133.5 387.8L133.2 387.3L133.7 386.9L133.7 386.5L133.5 386.0L133.6 385.4L133.5 384.7L135.1 384.5L134.2 383.7L134.7 383.2L134.0 382.5L134.2 382.0L134.7 381.6L134.9 381.1L135.4 380.7L134.9 380.0L135.6 379.8L136.1 379.4L135.4 378.7L136.3 378.4L135.7 377.6L136.4 377.2L136.6 376.7L137.3 376.4L136.6 375.5L137.1 375.2L137.6 374.9L137.0 374.1L137.6 373.9L137.5 373.3L137.9 372.8L138.7 372.6L139.1 372.2L140.0 372.3L140.0 371.6L140.4 371.2L140.3 370.4L140.6 370.1L141.1 369.9L140.8 368.9L142.2 369.6L142.0 368.6L142.3 367.9L142.7 367.8L143.4 367.7L143.8 367.4L143.6 366.6L144.2 366.4L144.3 365.8L144.3 365.1L145.0 364.9L145.3 364.4L145.1 363.6L146.2 363.8L145.6 362.8L146.5 362.8L146.4 362.0L146.8 361.5L147.1 361.1L147.9 360.9L147.5 360.0L148.1 359.8L149.0 359.8L148.5 358.9L149.0 358.6L149.5 358.5L149.6 357.7L150.3 357.6L150.4 356.9L151.1 357.1L151.4 356.6L151.7 356.0L152.5 356.6L152.8 355.8L153.2 355.6L153.7 355.1L154.3 355.2L154.9 355.2L155.4 355.2L156.1 355.4L156.5 354.4L157.0 354.8L157.6 355.4L158.2 355.0L158.7 355.1L159.3 355.6L159.8 355.1L160.4 355.2L161.0 355.0L161.5 355.7L162.1 355.5L162.7 354.8L163.3 355.3L163.9 354.7L164.3 355.6L164.7 355.6L165.4 355.5L166.0 355.7L166.8 355.6L166.4 356.7L167.0 357.0L167.3 357.3L167.1 357.9L167.8 358.2L167.9 358.6L168.1 359.1L168.6 359.5L167.7 360.9L168.8 360.6L169.2 360.8L169.2 361.5L170.6 360.6L170.2 361.9L170.6 362.3L171.3 362.3L171.4 363.1L172.4 362.7L172.3 363.7L172.5 364.3L173.7 363.8L173.8 364.4L173.8 365.2L174.1 365.6L174.7 365.9L174.7 366.5L175.0 366.9L175.8 367.0L175.7 367.7L176.4 367.9L176.9 368.1L177.3 368.5L176.5 369.7L177.2 369.9L176.8 370.7L178.2 370.4L178.1 371.1L178.2 371.7L178.6 372.0L178.7 372.6L179.1 373.0L179.6 373.2L180.5 373.3L180.3 374.0L179.7 375.0L180.3 375.3L180.4 375.9L181.4 375.9L181.5 376.4L182.1 376.7L182.0 377.4L182.4 377.8L182.6 378.3L182.4 379.1L183.6 378.9L183.4 379.7L184.4 379.7L183.9 380.6L184.6 380.7L184.8 381.2L185.0 381.6L184.8 382.4L185.7 382.4L186.1 382.7L186.6 383.0L186.5 383.7L187.1 383.9L187.3 384.4L187.4 384.9L187.5 385.4L188.3 385.5L188.1 386.3L188.1 386.9L189.5 386.6L188.9 387.7L188.9 388.3L190.1 388.0L190.0 388.7L191.0 388.6L190.7 389.5L191.3 389.7L191.4 390.3L192.1 390.4L192.4 390.8L192.6 391.3L193.0 391.7L193.2 392.1L193.4 392.6L194.0 392.8L194.0 393.4L194.1 394.0L195.3 393.7L194.8 394.8L195.4 395.0L195.9 395.4L196.3 395.8L196.4 396.4L196.6 396.8L196.6 397.5L197.4 397.6L196.9 398.5L197.8 398.6L197.6 399.4L197.8 399.9L198.8 399.8L198.4 400.7L198.3 401.4L199.4 401.3L199.4 401.9L199.9 402.2L200.1 402.7L200.5 403.1L200.9 403.5L200.7 404.2L200.9 404.7L201.5 404.9L201.2 405.7L201.6 406.0L202.0 406.4L202.8 406.6L202.2 407.6L202.7 408.0L204.2 407.8L204.0 408.4L204.0 408.9L203.8 409.6L203.9 410.1L204.6 410.3L204.7 410.9L204.8 411.4L205.7 411.5L205.3 412.3L205.8 412.6L205.9 413.2L206.3 413.6L206.9 413.8L207.1 414.3L207.1 414.9L207.3 415.4L207.7 415.7L207.6 416.5L208.4 416.6L209.0 416.8L209.0 417.5L209.3 418.0L209.6 418.4L209.5 419.2L210.1 419.4L210.2 419.9L210.6 420.2L211.2 420.4L211.1 421.1L211.9 421.2L212.1 421.8L212.8 421.8L212.8 422.5L213.3 422.7L213.4 423.2L213.4 423.9L213.5 424.5L214.3 424.5L215.0 424.8L215.0 425.3L215.4 425.6L216.0 425.8L216.1 426.4L216.4 426.8L216.8 427.2L216.4 428.1L217.3 428.2L217.6 428.7L217.5 429.4L218.2 429.6L218.7 429.9L218.8 430.4L218.7 431.1L219.0 431.5L219.3 431.9L219.9 432.1L220.4 432.4L220.2 433.3L221.2 433.1L221.2 433.8L221.9 433.8L222.0 434.4L222.3 434.8L222.3 435.5L223.7 434.6L223.0 436.3L224.0 435.9L224.1 436.6L224.4 437.1L225.2 436.9L225.4 437.5L225.7 438.0L226.2 438.1L226.8 438.3L227.0 438.9L227.5 439.2L228.3 439.0L228.1 440.2L228.8 440.1L229.8 439.5L229.9 440.3L229.8 441.5L230.3 441.7L231.0 441.5L231.8 441.0L232.1 441.7L232.3 442.4L232.9 442.4L233.5 442.4L234.0 442.4L234.2 443.2L234.8 443.1L235.1 443.5L235.5 443.8L235.7 444.5L236.5 444.3L236.9 444.6L237.8 444.3L237.4 445.5L237.9 445.8L238.5 445.9L239.5 445.6L239.4 446.4L239.7 447.0L239.5 447.9L240.3 447.8L240.6 448.2L241.0 448.6L241.2 449.1L242.3 448.8L242.5 449.2L243.0 449.5L243.1 450.1L243.5 450.5L243.7 451.0L244.4 451.1L244.5 451.7L245.1 451.8L244.6 453.0L245.7 452.7L245.1 453.9L245.8 454.1L247.0 453.7L246.7 454.7L247.1 455.0L248.1 454.7L247.9 455.7L248.5 455.8L248.8 456.2L249.5 456.1L249.8 456.6L250.2 457.0L250.7 457.1L251.2 457.2L251.7 457.5L252.2 457.5L252.6 458.0L253.3 457.6L253.6 458.5L254.2 458.4L254.8 458.7L255.2 458.9L255.8 458.7L256.1 459.5L256.8 459.0L257.2 459.4L257.7 459.5L258.2 459.9L258.8 459.7L259.3 459.6L259.8 460.0L260.4 459.6L260.8 460.2L261.3 460.2L261.7 460.7L262.2 460.4L262.8 460.5L263.4 460.6L263.9 460.7L264.4 460.9L264.9 461.2L265.5 460.9L266.0 461.2L266.5 461.0L267.0 461.3L267.5 461.4L268.1 461.1L268.6 461.1L269.1 461.2L269.7 461.2L270.2 461.1L270.7 460.8L271.2 460.5L271.7 460.2L272.3 460.5L272.9 460.4L273.3 460.0L273.9 460.1L274.2 459.6L274.7 459.4L275.4 459.6L275.8 458.9L276.4 459.0L276.9 458.7L277.3 458.4L277.9 458.5L278.1 457.8L278.6 457.7L278.8 457.2L279.6 457.2L280.2 457.2L280.7 457.0L281.2 456.8L281.6 456.4L281.6 456.0L281.5 455.5L282.0 455.2L282.2 454.7L281.9 454.2L282.1 453.6L282.7 453.1L282.6 452.5L282.7 452.0L282.7 451.4L282.7 450.9L282.7 450.2L283.1 449.6L283.0 448.9L283.1 448.2L283.4 447.6L283.5 447.0L283.8 446.5L283.6 445.9L284.3 446.0L284.0 445.4L284.2 445.6L284.0 446.0L284.4 446.4L284.4 447.1L284.4 447.8L285.1 448.4L284.7 449.1L285.0 449.7L285.0 450.2L285.1 450.6L285.5 450.8L286.0 451.0L286.6 450.9L287.1 450.7L287.6 450.3L288.3 450.2L288.8 449.6L289.5 449.5L290.0 449.6L290.4 449.3L290.6 448.7L291.1 448.6L291.7 448.7L292.2 448.4L292.7 448.3L292.9 447.5L293.4 447.3L294.0 447.3L294.4 446.9L294.9 446.8L295.4 446.5L295.9 446.3L296.2 446.0L296.7 445.8L297.2 445.5L297.6 445.1L297.8 444.6L298.6 444.7L298.9 444.2L299.3 444.0L299.7 443.6L299.9 443.1L300.6 443.2L300.8 442.7L301.2 442.4L302.0 442.5L302.3 442.0L302.9 441.8L303.4 441.7L303.9 441.6L304.2 440.7L304.7 440.8L305.3 440.9L305.7 440.5L306.2 439.9L306.7 440.6L307.2 440.7L307.6 440.9L308.1 440.9L308.6 440.9L309.1 441.2L309.6 441.4L310.1 441.5L310.5 441.8L311.1 442.1L311.6 442.0L311.9 442.6L312.4 442.8L312.9 443.1L313.8 442.8L314.0 443.5L314.5 443.8L315.1 443.8L315.5 444.4L316.1 444.1L316.5 444.8L317.0 444.7L317.5 444.5L318.0 444.8L318.5 444.5L319.0 444.4L319.4 443.9L320.0 444.0L320.6 444.0L321.0 443.7L321.3 443.0L322.0 443.3L322.5 443.1L323.0 442.8L323.3 442.3L323.7 441.9L324.3 441.8L324.8 441.6L325.4 441.5L325.9 441.3L326.3 440.8L326.7 440.4L327.3 440.4L327.6 440.0L328.2 440.3L328.4 439.6L328.8 439.8L329.6 439.4L329.7 438.9L330.6 439.0L330.9 438.6L331.2 438.3L331.7 438.1L332.3 438.1L332.9 438.1L333.3 437.4L334.0 437.7L334.6 437.5L335.1 437.3L335.7 437.4L336.2 437.4L336.7 437.4L337.2 437.7L337.8 437.4L338.2 438.1L338.7 438.1L339.4 437.9L340.0 437.9L340.4 438.4L340.9 438.6L341.3 439.0L341.8 439.2L342.1 439.7L342.7 439.6L343.0 440.0L343.5 440.1L343.9 440.4L344.1 441.1L344.7 441.1L345.1 441.4L345.6 441.7L346.0 442.1L346.4 442.5L347.0 442.7L347.5 442.7L347.8 443.2L348.4 443.3L348.8 443.6L349.2 443.9L349.7 444.2L350.4 443.9L350.5 444.9L351.1 445.0L351.5 445.4L351.9 445.8L352.7 445.4L353.2 445.7L353.6 446.1L354.0 446.4L354.6 446.4L355.1 446.7L355.5 447.2L356.1 447.1L356.5 447.5L356.9 447.9L357.5 447.9L357.9 448.4L358.4 448.4L359.0 448.4L359.4 448.8L359.9 449.1L360.3 449.4L360.8 449.6L361.2 449.9L361.7 450.1L362.2 450.3L362.7 450.4L363.2 450.6L363.6 450.8L364.1 450.9L364.5 451.5L365.1 451.0L365.5 451.6L366.1 451.4L366.5 451.7L366.8 452.2L367.4 452.1L367.7 452.6L368.4 452.3L368.8 452.6L369.3 452.8L369.7 453.1L370.2 453.2L370.7 453.4L371.1 453.8L371.5 454.2L372.1 454.3L372.6 454.5L373.1 454.7L373.6 454.9L374.1 455.0L374.6 455.3L374.9 455.8L375.6 455.7L375.8 456.4L376.4 456.4L376.9 456.5L377.4 456.8L377.8 457.2L378.3 457.3L378.8 457.4L379.2 457.9L379.7 458.1L380.4 457.6L380.8 458.1L381.4 457.9L381.9 457.9L382.4 458.2L382.8 458.6L383.4 458.4L383.9 458.5L384.3 459.0L384.9 458.9L385.4 458.9L385.9 459.3L386.4 459.1L386.9 458.9L387.4 458.9L387.9 459.0L388.4 459.2L388.9 459.4L389.4 459.4L389.9 459.3L390.4 459.1L390.9 459.6L391.4 459.5L391.9 459.4L392.5 459.5L392.9 459.9L393.3 460.0L393.8 460.3L394.4 460.1L394.7 460.8L395.4 460.3L395.8 460.9L396.2 461.3L396.7 461.5L397.3 461.3L397.6 461.8L398.1 462.1L398.6 462.2L399.2 462.1L399.4 462.8L400.1 462.3L400.6 462.8L401.2 462.8L401.8 463.1L402.3 463.2L402.9 463.6L403.6 463.4L404.0 463.8L404.5 464.2L405.1 464.1L405.5 464.3L405.9 464.4L406.4 464.3L406.6 464.4" fill="none" stroke="#808080" stroke-width="2.4" stroke-linejoin="round" stroke-linecap="round"/>
<path d="M81.2 504.4L81.5 503.8L82.0 503.4L82.5 502.8L83.1 503.6L83.7 503.9L84.3 503.3L84.9 503.3L85.5 503.3L86.0 502.5L86.5 503.6L87.0 502.2L87.4 502.4L87.9 503.1L88.3 502.0L88.8 501.9L89.3 501.4L89.8 501.5L90.2 500.5L90.7 500.8L91.2 501.4L91.7 500.7L92.2 500.3L92.7 500.2L93.2 500.0L93.7 499.6L94.2 499.5L94.7 498.4L95.1 498.9L95.5 498.2L96.0 498.4L96.4 497.9L96.8 497.2L97.3 497.2L97.7 496.6L98.1 496.9L98.5 496.2L98.9 496.2L99.3 495.1L99.7 495.7L100.0 494.4L100.4 495.8L100.7 494.9L101.0 492.3L101.3 493.5L101.6 492.1L101.9 492.7L102.2 493.4L102.5 492.1L102.8 492.1L103.1 489.2L103.3 490.3L103.6 490.1L103.9 490.4L104.2 488.1L104.5 489.0L104.7 488.4L105.0 485.8L105.2 485.9L105.5 487.1L105.7 484.8L106.0 484.3L106.2 486.2L106.5 485.0L106.7 484.0L107.0 484.0L107.2 483.0L107.5 482.4L107.7 482.0L107.9 482.5L108.2 483.0L108.4 480.6L108.7 480.6L108.9 479.9L109.1 478.3L109.3 479.5L109.5 479.8L109.7 477.4L109.9 478.7L110.1 476.7L110.2 478.1L110.4 477.7L110.5 475.4L110.7 473.2L110.8 474.5L111.0 472.9L111.1 472.5L111.3 473.2L111.4 474.5L111.6 472.4L111.7 471.7L111.8 469.5L112.0 470.4L112.1 469.0L112.2 470.7L112.3 469.0L112.5 469.1L112.6 468.6L112.8 467.8L112.9 468.6L113.1 467.7L113.2 466.3L113.3 466.4L113.5 466.4L113.6 466.8L113.8 465.0L113.9 465.9L114.1 463.1L114.2 463.0L114.4 461.1L114.5 463.1L114.7 460.5L114.9 459.9L115.0 461.5L115.2 459.5L115.3 458.8L115.5 460.2L115.6 458.4L115.8 459.1L115.9 457.1L116.1 457.8L116.3 457.6L116.4 456.0L116.6 457.3L116.8 454.4L116.9 454.1L117.1 453.9L117.2 454.4L117.4 452.4L117.5 451.8L117.6 452.1L117.8 452.8L117.9 450.5L118.1 448.9L118.3 449.6L118.4 449.9L118.6 448.1L118.7 448.4L118.9 445.8L119.0 447.4L119.1 447.1L119.3 447.2L119.4 446.4L119.6 446.3L119.8 443.9L119.9 445.3L120.1 442.3L120.3 443.0L120.4 444.5L120.6 443.7L120.8 440.3L121.0 442.5L121.2 440.8L121.3 439.9L121.5 440.4L121.7 439.8L121.9 440.5L122.0 437.0L122.1 437.7L122.3 437.6L122.4 435.2L122.5 438.1L122.6 438.2L122.7 435.1L122.9 435.7L123.0 434.5L123.1 434.6L123.2 433.0L123.4 434.2L123.5 431.5L123.6 433.7L123.7 432.1L123.9 433.8L124.0 428.8L124.1 430.0L124.2 428.2L124.4 428.9L124.5 429.1L124.6 427.1L124.8 426.0L124.9 425.2L125.0 426.9L125.1 427.5L125.3 426.9L125.4 425.2L125.5 423.6L125.6 423.8L125.8 422.0L125.9 421.5L126.0 423.9L126.2 421.9L126.3 422.1L126.4 420.9L126.5 422.2L126.7 421.8L126.8 418.9L126.9 418.8L127.1 418.0L127.2 419.6L127.3 419.1L127.4 416.9L127.6 419.3L127.7 416.3L127.8 414.4L127.9 413.1L128.1 414.6L128.2 414.7L128.3 413.2L128.4 413.7L128.6 414.1L128.7 412.2L128.8 412.7L129.0 413.1L129.1 411.3L129.2 409.7L129.3 410.3L129.4 409.9L129.6 411.2L129.7 407.9L129.8 406.1L129.9 407.7L130.0 407.3L130.1 405.9L130.2 406.5L130.3 405.7L130.5 406.2L130.6 403.4L130.7 403.1L130.8 403.3L130.9 402.3L131.0 403.8L131.1 402.5L131.2 401.4L131.3 402.6L131.4 401.0L131.5 401.0L131.6 400.3L131.7 398.8L131.7 398.3L131.8 398.0L131.9 396.3L132.0 396.6L132.1 397.4L132.2 396.3L132.3 394.5L132.3 397.6L132.4 393.3L132.5 394.6L132.6 394.2L132.6 394.3L132.7 391.4L132.8 391.9L132.8 391.1L132.9 392.1L132.9 390.7L133.0 390.2L133.1 389.9L133.1 390.9L133.2 389.0L133.3 388.8L133.4 386.3L133.4 387.7L133.5 385.1L133.6 387.1L133.7 385.6L133.9 383.9L134.0 383.0L134.2 383.6L134.3 383.3L134.5 382.0L134.6 381.8L134.8 381.3L134.9 380.6L135.1 380.5L135.2 380.5L135.4 381.2L135.5 380.0L135.7 378.3L135.9 380.1L136.1 379.1L136.3 377.0L136.5 377.8L136.6 375.6L136.8 374.9L137.0 374.5L137.2 376.6L137.4 374.5L137.6 374.3L137.8 373.7L138.2 372.6L138.5 373.1L138.9 372.9L139.2 373.9L139.6 370.4L140.0 372.6L140.3 371.3L140.7 368.4L141.0 371.0L141.4 371.4L141.8 370.5L142.2 369.1L142.6 368.5L142.9 365.8L143.1 368.0L143.4 367.5L143.7 365.8L144.0 366.6L144.3 365.2L144.6 368.0L144.9 363.7L145.3 363.6L145.6 361.7L145.9 363.2L146.1 363.3L146.4 362.8L146.7 361.6L147.0 362.8L147.3 361.6L147.6 362.2L147.9 360.3L148.2 358.0L148.5 359.3L148.7 358.0L149.0 359.6L149.3 357.7L149.7 357.7L150.1 357.5L150.5 355.5L151.0 356.5L151.4 357.6L151.8 355.8L152.3 356.0L152.8 356.1L153.3 355.0L153.8 355.2L154.3 355.9L154.9 354.8L155.4 355.2L156.0 354.9L156.5 353.8L157.1 353.5L157.6 357.1L158.2 356.4L158.7 354.8L159.3 356.0L159.8 356.2L160.4 356.1L161.0 354.6L161.6 353.5L162.1 353.7L162.7 354.8L163.3 356.6L163.9 356.9L164.4 355.0L164.8 355.0L165.4 356.9L165.9 358.1L166.3 355.1L166.6 357.1L167.0 357.2L167.2 357.1L167.4 357.5L167.5 357.9L167.7 358.7L167.8 357.6L168.1 359.8L168.5 361.2L168.8 361.5L169.1 361.8L169.4 361.6L169.8 361.8L170.2 364.1L170.6 362.1L171.0 362.9L171.5 364.4L171.9 363.4L172.3 362.3L172.7 363.5L173.1 364.0L173.4 364.7L173.8 364.8L174.1 366.8L174.4 366.9L174.7 367.0L175.0 366.5L175.3 368.5L175.6 368.9L175.9 370.6L176.2 368.0L176.5 369.0L176.8 371.1L177.1 368.8L177.4 370.7L177.7 371.1L177.9 371.3L178.2 370.7L178.5 372.2L178.8 371.0L179.1 374.3L179.3 372.9L179.6 374.1L179.9 374.3L180.2 374.9L180.5 375.3L180.8 376.1L181.1 375.7L181.4 376.6L181.7 375.8L182.0 376.3L182.4 376.9L182.7 377.2L183.0 377.2L183.3 378.5L183.6 380.3L183.9 380.5L184.2 380.0L184.5 381.2L184.8 381.7L185.0 384.6L185.3 380.3L185.6 382.8L185.9 381.5L186.2 384.7L186.5 383.5L186.8 384.6L187.1 384.8L187.4 385.7L187.7 382.2L188.0 384.5L188.3 386.3L188.6 385.1L188.9 387.6L189.2 388.7L189.6 386.4L189.9 387.7L190.2 389.3L190.5 391.0L190.8 390.5L191.1 390.6L191.4 389.3L191.7 390.7L192.1 391.2L192.4 390.8L192.7 392.4L193.0 392.0L193.3 392.3L193.6 395.5L193.9 393.4L194.2 396.0L194.5 393.9L194.8 394.7L195.1 393.9L195.5 395.1L195.8 397.9L196.1 396.6L196.3 394.9L196.6 399.0L196.9 397.0L197.2 397.9L197.5 398.8L197.8 397.2L198.1 401.4L198.4 401.5L198.7 400.2L198.9 401.4L199.2 401.1L199.5 401.2L199.8 402.0L200.1 401.2L200.4 402.8L200.7 403.0L200.9 406.1L201.2 402.9L201.5 406.3L201.7 406.1L202.0 406.0L202.3 405.6L202.6 408.7L202.8 408.8L203.1 407.6L203.4 408.0L203.6 408.8L203.9 411.0L204.1 408.5L204.3 410.0L204.5 411.6L204.8 409.3L205.0 411.2L205.2 413.0L205.5 411.7L205.7 412.5L206.0 411.4L206.2 414.0L206.5 412.8L206.8 414.1L207.1 415.3L207.4 414.7L207.7 416.7L208.0 417.0L208.3 417.2L208.6 418.2L208.9 417.4L209.3 415.6L209.6 419.4L209.9 419.7L210.2 418.8L210.5 418.8L210.8 421.3L211.1 419.9L211.4 420.4L211.8 420.8L212.2 424.3L212.5 421.3L212.9 419.6L213.2 422.6L213.6 421.9L213.9 421.5L214.2 423.9L214.6 423.6L215.0 425.7L215.3 424.7L215.5 426.7L215.8 426.9L216.0 426.3L216.3 427.6L216.6 429.2L216.9 428.4L217.1 426.6L217.4 428.7L217.7 429.3L218.0 430.9L218.3 429.9L218.6 431.7L218.8 430.8L219.1 431.3L219.4 431.4L219.8 432.1L220.1 432.4L220.5 433.3L220.8 432.5L221.2 432.5L221.5 433.9L221.9 434.5L222.2 434.2L222.6 435.5L223.0 435.7L223.4 437.5L223.8 434.5L224.2 438.5L224.6 434.1L225.0 435.1L225.4 437.6L225.8 436.6L226.2 437.6L226.7 437.8L227.1 437.2L227.5 437.4L228.0 438.8L228.4 439.9L228.8 440.5L229.3 440.3L229.7 440.0L230.2 441.9L230.6 438.5L231.1 441.2L231.6 442.7L232.0 443.3L232.5 443.1L233.0 443.5L233.4 443.4L233.9 442.6L234.3 440.2L234.8 442.3L235.2 442.8L235.6 445.1L236.1 443.2L236.5 443.6L236.9 445.1L237.3 443.6L237.7 445.0L238.1 445.9L238.5 445.3L238.9 446.0L239.3 444.4L239.7 445.4L240.1 446.8L240.5 448.7L240.8 447.2L241.2 447.1L241.6 447.6L241.9 449.6L242.3 447.7L242.7 449.8L243.0 449.6L243.4 450.5L243.8 449.9L244.1 451.2L244.5 453.0L244.9 451.6L245.2 451.7L245.6 449.8L245.9 453.6L246.3 452.7L246.6 454.2L247.0 454.3L247.3 453.7L247.7 454.2L248.1 453.8L248.5 457.8L248.9 456.9L249.3 457.1L249.8 457.8L250.2 457.4L250.7 457.4L251.2 457.7L251.7 458.6L252.2 456.9L252.7 457.9L253.2 457.7L253.7 458.2L254.3 457.2L254.8 458.1L255.3 459.1L255.7 458.3L256.2 459.2L256.7 458.8L257.2 459.2L257.7 458.7L258.2 459.3L258.8 459.0L259.3 460.1L259.8 459.2L260.3 460.2L260.8 459.9L261.3 460.2L261.7 461.0L262.2 460.4L262.8 460.3L263.4 460.7L263.9 461.2L264.4 460.7L264.9 461.8L265.5 461.2L266.0 461.1L266.5 461.0L267.0 461.3L267.5 461.6L268.1 461.8L268.6 461.3L269.1 460.9L269.6 461.0L270.2 460.0L270.7 461.3L271.2 461.0L271.8 460.4L272.3 460.6L272.8 459.7L273.3 460.8L273.8 459.8L274.3 459.5L274.7 460.5L275.3 458.9L275.8 459.4L276.4 458.6L276.9 458.5L277.3 458.4L277.8 458.0L278.2 458.8L278.6 458.4L279.0 457.5L279.7 458.6L280.2 457.4L280.8 457.2L281.2 457.2L281.6 456.1L281.8 456.8L281.9 455.4L282.0 454.8L282.1 455.3L282.2 453.9L282.2 453.6L282.3 452.6L282.4 452.4L282.5 452.1L282.6 450.4L282.7 450.9L282.8 450.0L283.0 450.3L283.1 449.9L283.2 448.5L283.4 447.9L283.5 447.5L283.6 447.0L283.8 445.4L283.9 445.2L284.0 445.4L284.1 445.1L284.2 445.9L284.3 446.6L284.3 446.7L284.4 448.0L284.5 449.1L284.6 449.2L284.8 449.9L285.0 450.2L285.2 450.5L285.6 450.5L286.0 450.2L286.5 450.9L287.1 451.0L287.6 450.3L288.2 450.1L288.9 449.2L289.5 449.4L289.9 449.5L290.3 449.1L290.8 449.0L291.2 448.3L291.7 448.0L292.1 448.2L292.6 448.7L293.1 447.6L293.5 446.9L294.0 447.0L294.5 446.9L294.9 447.3L295.4 447.0L295.8 445.9L296.3 445.5L296.7 445.6L297.1 445.4L297.5 444.6L298.0 445.2L298.4 444.3L298.8 444.3L299.3 443.8L299.7 443.8L300.1 443.3L300.5 443.2L300.9 443.4L301.3 442.7L301.8 442.9L302.3 441.4L302.8 441.7L303.3 441.0L303.8 440.6L304.3 441.0L304.8 441.7L305.2 440.8L305.7 441.1L306.2 439.7L306.7 440.7L307.2 440.1L307.6 440.8L308.1 441.3L308.6 440.8L309.1 441.6L309.6 441.0L310.1 441.6L310.6 441.5L311.1 442.0L311.6 442.1L312.0 441.4L312.5 442.5L313.0 442.7L313.5 443.9L314.0 442.4L314.5 443.8L315.0 444.3L315.5 445.0L316.0 444.9L316.5 444.5L317.0 445.2L317.5 444.5L318.0 444.4L318.5 444.2L319.0 444.1L319.5 444.8L319.9 443.2L320.4 443.0L320.9 443.9L321.4 443.4L321.9 443.4L322.4 442.6L322.9 442.8L323.4 442.2L323.8 441.9L324.3 441.7L324.9 441.7L325.4 441.4L325.9 441.0L326.4 441.6L326.8 440.8L327.3 440.2L327.7 439.6L328.1 439.9L328.5 439.0L328.8 439.2L329.5 438.7L329.8 438.6L330.5 438.8L330.9 437.1L331.3 439.0L331.8 438.4L332.3 437.8L332.9 437.6L333.4 438.0L334.0 437.5L334.6 438.2L335.1 437.2L335.7 436.9L336.2 436.7L336.7 437.3L337.2 437.9L337.7 437.0L338.3 438.2L338.8 438.1L339.3 437.8L339.8 438.7L340.4 437.5L340.9 437.6L341.4 438.9L341.8 439.2L342.2 439.4L342.7 439.5L343.1 439.1L343.5 440.3L343.9 440.2L344.3 441.1L344.7 441.1L345.1 440.8L345.6 441.9L346.0 442.3L346.5 442.6L347.0 442.3L347.4 442.4L347.9 443.4L348.3 443.3L348.8 443.5L349.2 444.2L349.7 444.5L350.2 444.5L350.7 444.4L351.2 445.4L351.7 444.5L352.2 445.2L352.7 445.6L353.1 445.1L353.6 445.6L354.1 446.5L354.6 446.4L355.1 446.2L355.6 447.6L356.0 447.2L356.5 447.4L357.0 448.4L357.5 447.2L357.9 447.9L358.4 447.9L358.9 449.2L359.4 448.5L359.8 450.1L360.3 449.5L360.8 449.7L361.3 450.2L361.7 449.9L362.2 449.8L362.7 450.1L363.1 450.6L363.6 450.3L364.1 451.0L364.5 450.8L365.0 451.2L365.5 451.4L365.9 452.3L366.4 452.8L366.9 452.8L367.4 452.1L367.8 452.0L368.3 453.0L368.8 453.3L369.2 453.3L369.7 452.8L370.2 453.4L370.6 453.4L371.1 454.2L371.6 454.4L372.1 454.4L372.5 454.4L373.0 455.6L373.5 455.1L374.0 455.7L374.4 455.8L374.9 456.2L375.4 456.6L375.9 456.2L376.3 456.3L376.8 457.0L377.3 455.5L377.8 457.1L378.3 457.1L378.8 457.8L379.3 457.7L379.8 457.6L380.3 457.3L380.9 457.9L381.4 458.0L381.9 458.3L382.4 458.4L382.9 458.1L383.4 458.8L383.9 458.4L384.4 458.9L384.9 458.9L385.4 459.5L385.9 459.0L386.4 459.7L386.9 458.9L387.4 458.7L387.9 459.4L388.4 458.6L388.9 459.4L389.4 459.4L389.9 459.4L390.4 459.5L390.9 459.5L391.4 460.1L391.9 459.5L392.4 458.8L392.9 459.7L393.4 460.4L393.8 460.6L394.3 460.6L394.8 460.5L395.3 460.3L395.8 461.6L396.3 460.8L396.7 460.8L397.2 460.4L397.7 462.6L398.2 461.9L398.6 461.3L399.1 462.7L399.6 462.7L400.0 461.9L400.6 463.1L401.1 463.0L401.7 463.5L402.3 463.9L402.9 463.3L403.5 464.6L404.1 463.8L404.6 463.7L405.1 464.6L405.5 463.9L406.0 464.2L406.3 464.8L406.6 464.1" fill="none" stroke="#808080" stroke-width="1.3" stroke-linejoin="round" stroke-linecap="round"/>
<path d="M81.2 508.1L81.5 507.9L81.8 508.3L82.3 508.5L82.7 508.8L83.2 508.3L83.7 508.1L84.3 507.9L84.9 508.5L85.5 508.9L86.1 508.3L86.7 507.6L87.3 507.7L87.9 508.7L88.4 508.1L88.8 507.3L89.4 507.9L89.7 507.4L90.4 507.6L91.0 507.6L91.5 507.4L92.1 507.8L92.5 507.5L92.9 507.2L93.4 507.4L93.9 507.5L94.0 506.4L94.7 506.8L95.1 506.4L95.7 506.5L96.0 505.9L96.7 506.2L97.2 506.0L97.7 505.7L98.0 505.2L98.6 505.2L99.0 504.7L99.5 504.4L100.2 504.8L100.4 504.0L101.3 504.6L101.6 504.2L101.5 503.0L102.4 503.5L102.6 502.8L103.3 502.9L103.7 502.6L103.7 501.7L104.5 501.9L104.9 501.6L105.6 501.7L105.5 500.7L106.4 501.0L106.4 500.1L107.0 500.0L107.2 499.5L108.2 499.8L108.4 499.2L109.3 499.4L109.3 498.5L109.7 498.3L110.1 497.9L110.1 497.2L110.6 497.0L111.4 497.1L111.3 496.2L111.9 496.0L112.2 495.6L112.8 495.5L112.9 494.8L113.3 494.5L113.8 494.3L114.1 494.0L114.2 493.3L115.0 493.5L114.8 492.5L115.2 492.2L115.5 491.8L116.5 492.1L116.5 491.4L116.7 490.9L117.0 490.5L117.7 490.6L117.6 489.8L117.9 489.4L118.8 489.5L118.6 488.6L119.2 488.5L119.6 488.2L119.8 487.7L120.3 487.5L121.0 487.4L120.8 486.5L120.9 485.9L121.0 485.3L121.9 485.2L122.1 484.8L122.6 484.5L122.5 484.0L122.8 483.6L122.9 483.1L123.2 482.7L123.7 482.4L123.8 481.9L124.2 481.5L125.1 481.4L124.8 480.7L124.3 479.8L125.8 480.0L125.5 479.3L125.3 478.6L126.2 478.4L126.2 477.8L126.2 477.3L126.5 476.8L126.6 476.3L127.2 476.1L127.8 475.9L127.6 475.2L128.1 474.9L128.9 474.7L128.1 473.7L128.8 473.5L128.9 473.0L128.9 472.4L129.2 471.9L129.8 471.7L130.2 471.3L130.1 470.6L130.6 470.3L131.1 469.9L131.2 469.4L131.6 469.0L131.7 468.5L132.0 468.1L132.7 467.9L132.5 467.2L132.6 466.6L133.0 466.3L132.7 465.5L133.1 465.1L133.7 464.9L133.9 464.4L134.5 464.0L134.2 463.3L133.9 462.6L135.3 462.7L135.3 462.1L134.7 461.2L135.8 461.2L135.6 460.4L135.1 459.7L135.8 459.4L136.0 458.9L137.0 458.8L136.4 458.0L136.8 457.6L137.0 457.1L137.2 456.6L137.2 456.1L137.8 455.8L138.3 455.5L138.4 454.9L138.0 454.2L138.1 453.7L138.8 453.5L138.7 452.9L139.0 452.4L138.8 451.8L140.3 451.9L140.2 451.3L139.7 450.5L140.6 450.3L141.0 449.9L139.9 448.8L140.7 448.7L141.0 448.3L141.6 448.0L141.6 447.4L141.8 446.9L142.1 446.5L143.0 446.3L143.3 445.9L142.6 445.0L142.7 444.4L144.3 444.6L143.2 443.5L143.6 443.1L144.0 442.8L144.4 442.4L144.8 442.1L144.8 441.5L144.5 440.9L145.2 440.7L145.3 440.2L146.1 440.1L145.6 439.2L145.4 438.5L145.7 438.0L146.8 437.9L146.2 437.1L145.8 436.4L146.6 436.2L146.9 435.8L147.5 435.5L146.9 434.7L147.7 434.5L147.9 434.0L147.5 433.4L147.9 433.0L148.8 432.8L149.0 432.3L149.0 431.7L149.0 431.1L149.6 430.8L149.4 430.1L149.7 429.6L149.7 428.9L150.3 428.6L150.6 428.1L151.9 428.2L151.1 427.2L151.9 427.0L152.1 426.6" fill="none" stroke="#000" stroke-width="3.0" stroke-linejoin="round" stroke-linecap="round"/>
<path d="M152.1 426.6L151.8 425.9L152.5 425.7L151.5 424.7L152.6 424.5L153.1 423.9L152.0 423.0L152.6 422.6L153.6 422.3L153.2 421.7L153.0 421.1L153.5 420.8L153.6 420.4L154.4 420.2L154.7 419.8L154.9 419.3L155.3 418.9L155.9 419.0L156.5 419.3L156.8 418.7L157.4 418.7L157.8 418.2L158.3 417.7L159.0 418.0L159.4 418.6L159.9 418.6L160.5 418.4L161.2 418.3L161.5 419.2L162.1 419.2L162.6 419.4L163.2 419.7L163.6 420.1L164.1 420.3L164.5 420.8L165.0 421.1L165.5 421.5L166.0 421.5L166.7 421.3L167.1 421.6L167.4 422.0L168.2 421.9L168.7 422.4L169.2 422.8L169.8 422.0L170.2 421.5L171.0 422.6L171.4 421.9L172.1 422.0L172.3 421.0L173.3 421.9L173.5 421.3L173.7 420.7L174.2 420.4L175.0 420.3L175.4 420.2L175.8 420.1L176.2 419.7L176.8 420.5L177.3 419.9L177.8 419.9L178.4 419.9L178.9 418.8L179.5 419.9L180.0 419.6L180.6 419.5L181.1 419.7L181.6 419.2L182.0 419.9L182.6 419.3L183.2 419.3L183.8 419.3L184.2 419.8L184.7 420.1L185.3 419.6L185.8 419.4L186.0 420.5L186.6 419.8L186.9 420.8L187.6 420.6L188.1 420.6L188.6 420.9L188.8 421.6L189.3 422.1L189.9 422.0L190.0 422.6L190.1 423.2L191.0 422.7L191.7 422.7L192.1 423.0L192.6 423.2L192.9 423.8L193.3 424.1L193.9 424.3L193.8 425.2L195.1 424.8L195.0 425.5L194.2 426.7L194.8 426.9L195.3 427.2L195.6 427.7L195.4 428.4L196.1 428.6L196.5 429.0L197.2 429.3L197.1 430.0L197.6 430.3L197.8 430.7L198.1 431.1L198.2 431.7L198.6 432.0L198.6 432.7L199.6 432.5L199.6 433.2L199.4 434.1L200.3 434.0L200.3 434.7L200.7 435.0L201.0 435.4L201.6 435.6L202.5 435.3L202.6 436.0L203.0 436.3L203.7 436.3L203.8 436.9L204.3 437.0L204.8 437.2L204.7 438.1L205.1 438.4L205.7 438.5L206.1 438.8L206.4 439.2L206.8 439.6L207.2 439.9L207.5 440.4L208.0 440.6L208.2 441.1L208.6 441.5L209.1 441.7L209.7 441.7L210.1 442.0L210.4 442.7L210.9 442.7L211.3 443.1L212.3 442.5L212.8 442.7L212.6 444.0L213.1 444.3L213.3 444.9L213.9 444.9L214.5 445.0L215.0 445.1L215.7 444.9L215.8 445.9L216.6 445.6L216.9 446.2L217.4 446.3L217.9 446.5L218.3 447.0L219.0 446.6L219.5 446.8L220.0 446.7L220.5 447.1L220.8 448.0L221.5 447.3L222.0 447.9L222.5 447.8L223.1 447.8L223.6 447.8L224.1 447.1L224.7 447.6L225.3 448.1L225.7 447.1L226.3 447.3L226.8 447.0L227.3 447.4L227.7 446.8L228.4 447.8L228.8 446.9L229.2 446.4L229.9 447.6L230.4 447.2L230.8 446.9L231.3 446.8L231.7 446.3L232.2 446.3L232.8 446.5L233.3 446.4L233.9 446.1L234.3 445.6L234.6 445.1L235.2 445.0L235.9 445.1L236.4 445.0L236.6 444.2L237.0 443.9L237.6 444.5L237.9 444.2L238.4 444.2L239.2 443.6L239.5 444.2L240.0 444.4L240.3 445.0L241.2 444.6L241.3 445.9L241.9 445.6L242.3 445.8L242.9 445.3L243.3 445.9L243.7 446.5L244.4 445.5L244.8 446.3L245.3 446.6L245.9 446.1L246.4 446.7L246.9 446.3L247.4 447.0L247.9 446.7L248.5 446.6L249.0 447.3L249.6 446.8L250.1 446.9L250.6 445.9L251.1 446.0L251.8 446.5L252.3 446.4L252.8 445.9L253.4 446.1L253.6 445.3L254.2 445.6L254.5 444.9L255.2 445.2L255.5 444.7L255.9 444.5L256.5 444.5L257.3 444.9L257.2 443.6L257.7 443.5L258.5 443.8L258.7 443.0L259.6 443.5L259.7 442.7L260.1 442.4L260.6 442.1L261.3 442.3L261.5 441.6L261.9 441.2L262.3 440.8L262.3 439.9L262.9 439.7L263.9 440.1L264.1 439.6L264.5 439.2L264.9 438.9L265.0 438.2L265.6 438.1L265.8 437.4L266.5 437.5L266.7 436.8L267.2 436.7L267.7 436.5L267.9 436.0L268.6 436.0L268.9 435.6L269.2 435.2L269.9 435.1L269.4 433.9L269.8 433.5L270.8 433.7L271.2 433.3L271.9 433.2L271.9 432.4L272.3 432.0L272.0 431.1L272.9 431.1L273.1 430.6L272.8 429.8L273.2 429.4L273.7 429.1L274.0 428.7L273.1 427.7L274.4 427.7L274.6 427.3L274.7 426.8L275.0 426.4L275.3 426.0L274.9 425.3L275.7 425.1L275.6 424.4L275.6 423.8L276.3 423.5L277.0 423.1L276.1 422.2L276.2 421.6L276.5 421.1L278.0 421.3L277.4 420.5L277.8 420.0L277.8 419.4L278.0 418.9L277.9 418.3L278.9 418.3L279.2 417.8L278.7 416.8L279.2 416.6L279.4 416.2L279.8 415.8L280.1 415.4L280.6 415.0L280.8 414.5L280.9 413.9L281.2 413.4L280.3 412.6L280.7 412.1L281.5 411.8L281.3 411.2L281.4 410.7L280.7 410.0L280.9 409.4L282.1 409.2L282.1 408.6L282.0 408.1L282.0 407.6L281.6 407.0L282.6 406.7L282.9 406.3L283.3 405.8L282.8 405.2L282.8 404.6L282.6 404.1L283.6 403.8L283.9 403.3L283.0 402.7L283.5 402.3L283.5 401.7L283.3 401.2L282.7 400.5L283.6 400.2L284.1 399.8L283.3 399.1L283.7 398.6L282.8 397.9L284.7 397.8L284.5 397.2L284.4 396.7L284.4 396.2L284.3 395.7L284.6 395.2L284.6 394.7L284.8 394.2L284.9 393.8L285.1 393.3L285.8 392.9L284.7 392.2L285.5 391.8L285.2 391.2L285.2 390.7L284.8 390.1L286.1 389.9L285.6 389.3L285.9 388.8L286.5 388.5L286.0 387.9L286.6 387.5L286.7 387.1L287.2 386.7L287.4 386.2L286.9 385.5L287.7 385.1L287.5 384.5L287.7 383.9L287.7 383.4L288.2 383.1L287.6 382.5L288.2 382.1L288.7 381.7L288.3 381.1L289.3 380.8L288.3 380.0L288.8 379.6L288.7 379.0L288.7 378.5L288.6 377.9L289.0 377.5L289.3 377.0L289.1 376.4L289.9 376.0L290.2 375.6L289.2 374.8L290.2 374.6L290.1 374.0L290.2 373.5L291.2 373.2L290.8 372.6L290.6 372.0L290.7 371.5L289.9 370.7L291.2 370.5L290.7 369.9L291.2 369.5L291.3 369.0L291.7 368.6L292.3 368.2L292.0 367.6L292.2 367.2L291.7 366.5L292.1 366.1L292.4 365.7L291.6 365.0L293.1 364.8L292.2 364.0L292.1 363.5L293.3 363.2L293.6 362.8L292.7 362.0L292.8 361.5L294.4 361.3L293.3 360.5L292.7 359.8L293.3 359.4L294.4 359.2L294.0 358.6L294.2 358.1L294.5 357.7L294.4 357.2L294.1 356.7L293.8 356.1L294.8 355.8L294.4 355.0L294.9 354.6L295.8 354.4L295.6 353.8L295.6 353.3L295.8 352.8L296.2 352.5L296.4 352.0L295.8 351.3L296.5 351.0L297.3 350.6L297.0 350.0L296.5 349.4L296.7 348.9L296.2 348.3L296.8 347.9L297.9 347.6L297.3 347.0L297.1 346.4L297.3 345.9L297.6 345.4L297.7 344.9L297.7 344.4L297.6 343.9L298.3 343.5L298.7 343.1L298.0 342.4L298.2 341.9L299.0 341.5L298.1 340.7L298.6 340.3L298.8 339.8L299.2 339.4L299.1 338.9L299.0 338.4L299.6 338.0L299.1 337.5L298.9 337.0L298.8 336.5L299.9 335.8L298.9 335.4L299.7 334.7L299.7 334.1L299.7 333.6L299.3 333.2L299.2 332.7L299.6 332.1L299.6 331.5L299.7 330.8L300.8 330.9L300.5 330.0L301.7 330.1L301.6 329.4L301.5 328.8L302.1 328.6L302.7 328.3L302.2 327.3L302.7 327.0L303.0 326.6L303.7 326.4L304.1 325.9L304.3 325.3L304.4 324.7L304.8 324.3L305.6 324.4L305.7 324.2L306.0 323.7L306.9 323.6L306.8 324.7L307.1 325.0L307.3 325.4L306.9 326.1L307.4 326.5L308.3 326.9L308.5 327.5L307.9 328.5L308.5 328.7L308.4 329.3L308.9 329.5L309.4 329.8L309.2 330.5L308.9 331.2L309.5 331.5L310.3 331.8L310.2 332.4L310.4 333.0L310.3 333.6L310.2 334.3L309.9 334.8L310.7 335.1L311.0 335.6L310.9 336.1L311.0 336.6L311.3 337.1L311.2 337.7L311.3 338.2L311.9 338.7L311.3 339.4L311.7 339.9L312.0 340.4L311.5 341.0L312.0 341.5L311.2 342.1L311.8 342.6L312.0 343.0L312.5 343.5L312.4 344.0L312.0 344.6L312.7 345.0L312.2 345.6L313.5 345.8L312.6 346.5L312.5 347.0L312.8 347.4L313.0 347.9L312.7 348.5L313.6 348.8L313.7 349.3L313.4 349.9L313.1 350.5L313.5 350.9L313.9 351.3L313.8 351.8L313.9 352.3L314.6 352.7L315.4 353.0L314.8 353.7L315.1 354.1L314.9 354.7L315.3 355.2L315.3 355.7L314.9 356.4L315.2 356.8L315.3 357.3L314.8 358.0L315.7 358.2L315.8 358.7L315.3 359.3L316.3 359.6L316.6 360.1L315.6 360.9L316.1 361.3L316.1 361.9L316.1 362.4L316.1 362.9L316.7 363.3L316.7 363.8L317.2 364.2L316.8 364.7L316.8 365.2L317.2 365.6L316.9 366.2L316.1 366.9L317.8 367.0L317.2 367.8L317.3 368.4L317.4 369.0L318.3 369.4L317.7 370.2L318.1 370.7L318.6 371.2L318.8 371.7L318.8 372.2L318.7 372.7L319.0 373.1L318.8 373.9L320.1 373.6L320.5 374.2L321.1 373.8L321.9 374.0L322.5 373.3L322.6 372.8L322.6 372.3L323.1 372.1L323.7 371.9L324.4 371.8L324.5 371.1L324.2 370.2L324.7 369.9L325.2 369.5L325.5 369.0L325.9 368.6L326.4 368.3L326.5 367.7L326.6 367.1L326.5 366.3L327.4 366.2L327.3 365.5L328.1 365.4L328.6 365.1L328.4 364.3L329.1 364.3L329.4 363.9L330.3 364.3L330.4 363.5L330.5 362.4L331.5 363.0L332.0 362.8L332.5 362.4L333.0 362.3L333.5 362.7L334.0 362.8L334.5 362.9L335.2 362.8L335.5 363.4L336.4 363.4L336.9 364.0L336.9 364.6L337.4 364.8L337.5 365.4L336.8 366.5L337.8 366.5L338.5 366.7L339.3 366.9L339.1 367.7L339.6 368.0L340.2 368.3L339.5 369.4L340.2 369.5L340.2 370.2L339.6 371.2L340.8 371.0L341.1 371.4L341.4 371.9L341.8 372.2L342.3 372.5L342.4 373.1L342.2 373.8L342.9 373.9L343.5 374.0L343.7 374.4L343.9 374.8L343.8 375.4L343.9 375.9L344.2 376.3L344.2 376.9L344.9 377.2L344.8 377.9L345.2 378.4L345.2 378.9L346.3 379.0L345.2 379.8L346.4 379.9L346.4 380.5L345.8 381.1L346.3 381.5L345.6 382.2L346.3 382.6L346.9 383.0L346.6 383.7L346.9 384.2L346.3 384.9L346.4 385.5L346.9 385.9L347.5 386.3L347.4 386.9L347.2 387.6L348.1 387.9L348.3 388.4L347.9 389.1L348.1 389.6L348.7 389.9L348.9 390.3L349.8 390.4L348.9 391.5L349.6 391.7L350.3 391.9L350.5 392.4L350.7 392.9L350.1 393.9L350.7 394.1L351.6 394.1L350.9 395.2L351.3 395.6L352.4 395.5L353.2 395.6L352.3 396.8L353.1 396.9L353.2 397.4L353.7 397.7L353.3 398.6L353.5 399.0L354.0 399.3L354.7 399.5L354.8 400.1L355.0 400.6L356.0 400.5L355.4 401.6L356.2 401.7L356.4 402.2L356.7 402.6L356.8 403.2L357.0 403.6L357.0 404.3L358.1 404.1L358.6 404.4L358.5 405.0L359.1 405.3L358.9 406.0L359.7 406.1L359.7 406.7L359.8 407.4L360.1 407.8L360.6 408.1L360.5 408.8L360.8 409.2L362.1 409.0L361.7 409.9L362.0 410.4L362.5 410.8L362.9 411.2L363.0 411.8L363.1 412.4L363.4 412.8L363.4 413.5L363.8 413.9L364.6 414.1L364.9 414.5L364.6 415.3L365.4 415.4L365.4 416.0L365.5 416.5L365.6 417.0L366.0 417.2L365.9 417.7L367.0 417.9L367.1 418.8L367.8 418.9L367.9 419.6L368.3 419.9L368.9 419.9L369.7 419.8L369.0 421.1L369.5 421.3L369.9 421.6L370.6 421.7L370.8 422.1L371.0 422.6L371.5 422.8L371.6 423.4L372.2 423.4L372.9 423.5L372.9 424.3L373.7 424.6L373.7 425.1L374.6 425.0L374.4 425.7L374.3 426.3L375.0 426.5L375.1 427.1L375.1 427.6L375.6 428.0L375.3 428.8L376.3 428.9L376.5 429.4L376.8 429.9L377.7 430.0L377.9 430.6L377.4 431.5L378.0 431.8L377.7 432.6L378.5 432.7L378.8 433.2L378.7 433.9L379.2 434.1L379.1 434.9L380.2 434.7L380.0 435.5L380.2 436.0L380.5 436.4L380.6 437.0L381.0 437.4L381.6 437.6L382.1 437.9L381.8 438.7L382.4 439.0L382.4 439.6L382.5 440.2L383.2 440.4L383.8 440.6L383.8 441.2L383.7 441.8L384.3 442.1L384.1 442.8L384.7 443.0L384.9 443.5L385.4 443.8L385.5 444.4L385.3 445.1L386.1 445.3L386.3 445.7L386.7 446.1L386.4 446.8L387.5 446.8L387.4 447.4L387.1 448.2L387.2 448.7L388.0 448.8L387.9 449.5L389.2 449.4L388.5 450.4L389.0 450.8L389.7 450.9L390.2 451.2L390.1 451.9L390.1 452.5L390.3 452.9L390.7 453.3L390.7 453.9L391.0 454.3L392.0 454.3L392.0 454.9L392.3 455.4L392.0 456.1L392.8 456.3L392.6 457.0L393.2 457.3L392.7 458.2L393.8 458.2L394.1 458.7L394.4 459.1L394.6 459.6L394.1 460.6L395.4 460.4L395.8 460.8L395.8 461.4L395.8 462.0L396.7 462.1L396.4 462.9L396.7 463.3L397.2 463.5L397.6 463.9L398.1 464.3L398.3 464.8L398.8 465.2L398.5 466.1L398.7 466.6L399.7 466.6L400.0 467.1L400.9 467.0L400.8 467.7L400.8 468.3L401.2 468.6L401.5 468.9L401.7 469.5L402.3 469.7L403.0 470.0L403.0 471.0L404.3 470.2L404.6 470.7L404.9 471.1L405.3 471.4L405.6 471.6L405.7 471.9" fill="none" stroke="#000" stroke-width="2.3" stroke-linejoin="round" stroke-linecap="round"/>
<path d="M81.2 507.9L81.5 508.1L81.8 508.5L82.3 508.2L82.7 508.5L83.2 508.6L83.7 507.8L84.3 508.6L84.9 508.0L85.5 508.9L86.1 508.4L86.7 507.9L87.3 508.2L87.8 508.1L88.4 508.1L88.9 508.5L89.4 508.1L89.8 508.5L90.4 508.0L91.0 507.7L91.5 507.1L92.0 507.0L92.5 507.6L92.9 507.6L93.3 507.8L93.8 507.0L94.2 507.1L94.7 506.6L95.2 506.6L95.7 505.8L96.2 506.7L96.7 506.0L97.2 506.0L97.7 506.0L98.2 505.7L98.7 504.9L99.2 505.7L99.7 505.2L100.1 505.2L100.6 503.7L101.0 502.4L101.5 502.2L101.9 503.5L102.4 503.6L102.8 502.4L103.3 504.9L103.7 502.9L104.2 503.4L104.6 503.0L105.0 500.5L105.4 502.5L105.8 501.6L106.2 499.4L106.6 501.2L107.0 501.3L107.5 500.8L107.9 500.6L108.3 497.5L108.7 498.4L109.1 497.8L109.5 498.1L109.9 497.8L110.3 498.6L110.7 497.8L111.0 495.7L111.4 497.3L111.8 497.8L112.2 496.0L112.6 493.6L113.0 494.2L113.3 494.4L113.7 492.5L114.1 493.8L114.4 492.2L114.8 494.1L115.2 493.6L115.5 492.4L115.9 490.8L116.3 492.1L116.6 490.8L116.9 490.4L117.3 492.0L117.6 489.6L118.0 488.6L118.3 490.6L118.6 491.3L119.0 490.7L119.3 489.5L119.6 490.5L120.0 487.5L120.3 489.9L120.6 489.4L121.0 486.3L121.3 486.7L121.6 484.3L122.0 484.1L122.2 485.5L122.5 483.2L122.7 484.3L122.9 484.2L123.2 483.4L123.4 483.9L123.7 484.6L123.9 482.2L124.1 482.6L124.4 482.7L124.6 480.1L124.9 479.4L125.2 477.0L125.4 479.7L125.7 479.9L125.9 478.8L126.2 480.1L126.4 479.1L126.7 477.9L126.9 476.5L127.2 475.2L127.4 475.8L127.7 475.8L128.0 474.8L128.2 474.1L128.5 473.5L128.7 474.3L129.0 471.2L129.3 472.3L129.5 472.2L129.8 472.5L130.1 472.0L130.3 470.5L130.6 469.6L130.8 468.5L131.1 470.6L131.3 469.5L131.6 468.7L131.8 467.2L132.0 466.3L132.3 468.4L132.5 466.6L132.7 466.7L133.0 467.7L133.2 463.5L133.5 463.9L133.7 464.7L133.9 464.5L134.2 462.2L134.4 462.8L134.6 461.7L134.9 461.3L135.1 461.8L135.3 461.2L135.5 461.8L135.8 460.7L136.0 461.2L136.2 458.2L136.4 459.1L136.7 456.6L136.9 455.8L137.1 455.7L137.3 457.5L137.5 456.5L137.7 454.0L137.9 456.8L138.1 455.9L138.4 454.2L138.6 453.6L138.8 453.4L139.0 451.6L139.2 455.1L139.4 451.5L139.6 451.4L139.8 450.7L140.1 449.9L140.3 449.2L140.5 450.1L140.7 447.9L140.9 447.6L141.2 447.4L141.4 448.8L141.6 446.3L141.9 445.8L142.1 446.8L142.3 444.7L142.6 445.2L142.8 446.0L143.1 445.0L143.3 444.2L143.5 445.3L143.8 442.7L144.0 442.1L144.2 440.4L144.4 441.9L144.6 442.1L144.8 440.3L145.0 442.7L145.2 441.3L145.4 440.8L145.6 437.9L145.9 439.0L146.1 438.6L146.3 435.4L146.4 437.1L146.6 436.4L146.8 434.3L146.9 436.3L147.1 437.5L147.2 435.7L147.4 433.4L147.6 433.6L147.8 434.7L148.0 432.1L148.2 432.9L148.4 432.1L148.7 431.7L148.9 432.9L149.2 428.9L149.5 431.4L149.8 429.9L150.0 429.0L150.3 426.8L150.6 428.5L150.9 427.2L151.2 424.0L151.4 425.2L151.7 425.0L151.9 424.8L152.1 424.8L152.3 424.2L152.6 426.2L152.8 425.0L153.0 423.2L153.1 424.2L153.2 424.5L153.3 422.2L153.4 419.8L153.6 421.3L153.8 422.1L154.2 418.9L154.6 419.7L155.0 420.4L155.4 420.5L155.9 419.9L156.3 419.2L156.8 418.4L157.3 417.8L157.8 419.4L158.3 419.3L159.0 417.8L159.4 417.6L159.9 419.9L160.4 419.8L161.0 418.1L161.5 417.3L162.0 419.5L162.6 420.5L163.1 420.9L163.6 420.9L164.1 418.5L164.7 420.5L165.2 420.3L165.7 420.2L166.2 424.1L166.7 421.4L167.1 421.9L167.5 421.5L168.2 422.8L168.7 423.5L169.2 422.0L169.8 422.3L170.3 421.7L170.9 421.0L171.4 421.7L172.0 422.1L172.5 421.5L172.9 421.0L173.3 418.9L173.7 421.1L174.2 420.7L175.0 422.0L175.4 419.5L175.8 418.6L176.2 417.9L176.7 419.3L177.3 419.9L177.8 420.1L178.4 418.1L178.9 419.1L179.5 420.8L180.1 419.7L180.6 419.3L181.1 419.2L181.6 417.8L182.0 418.0L182.6 419.0L183.2 420.9L183.7 420.9L184.3 419.5L184.7 420.5L185.2 420.3L185.6 421.2L186.1 419.3L186.5 420.5L187.1 421.4L187.5 419.2L188.0 420.7L188.4 421.3L188.9 421.8L189.5 422.4L189.8 422.7L190.2 423.4L190.6 424.0L191.0 423.2L191.4 425.5L191.8 422.8L192.3 423.5L192.7 424.4L193.1 423.5L193.5 423.1L193.9 423.6L194.3 426.8L194.6 425.1L194.9 424.8L195.2 428.8L195.5 427.5L195.7 427.8L196.0 427.0L196.3 428.8L196.5 428.4L196.8 429.8L197.1 429.9L197.3 430.2L197.6 431.1L197.9 430.3L198.2 431.2L198.5 431.2L198.9 432.9L199.2 433.6L199.6 434.1L199.9 431.5L200.3 435.9L200.6 434.1L201.0 434.5L201.4 434.9L201.8 435.3L202.1 437.1L202.5 436.2L202.9 436.7L203.3 437.8L203.6 438.5L204.0 436.3L204.4 436.4L204.7 435.9L205.1 436.3L205.5 439.1L205.9 439.2L206.3 439.4L206.7 440.1L207.1 440.4L207.5 441.7L207.9 442.6L208.3 440.1L208.7 442.9L209.1 442.8L209.6 441.0L210.0 442.4L210.4 442.0L210.9 440.9L211.3 443.1L211.8 441.6L212.2 443.7L212.7 442.8L213.1 443.8L213.6 445.3L214.0 444.8L214.5 444.0L215.0 445.4L215.5 446.1L216.0 446.7L216.5 444.9L217.0 447.3L217.5 446.1L218.0 445.9L218.5 447.9L219.0 447.5L219.5 447.7L219.9 447.2L220.4 445.2L220.9 447.8L221.5 448.0L222.0 447.4L222.5 449.4L223.1 447.7L223.6 449.4L224.1 448.8L224.7 446.8L225.2 446.6L225.7 447.1L226.3 447.3L226.8 448.1L227.3 446.6L227.8 446.1L228.3 449.5L228.8 447.1L229.3 447.4L229.8 448.9L230.3 447.0L230.8 444.2L231.3 447.2L231.8 445.8L232.2 447.5L232.7 444.3L233.2 446.3L233.7 446.8L234.2 447.2L234.7 446.4L235.2 446.1L235.7 444.8L236.2 444.6L236.6 443.3L237.1 445.2L237.5 445.8L237.9 444.6L238.5 443.0L239.0 442.6L239.4 443.8L239.9 446.4L240.4 445.2L240.9 444.2L241.5 445.1L241.9 446.5L242.4 445.0L242.8 445.3L243.3 445.4L243.8 445.1L244.3 448.3L244.8 445.4L245.3 446.7L245.9 447.7L246.4 446.4L246.9 446.1L247.4 446.4L247.9 446.6L248.5 446.4L249.0 446.1L249.5 446.1L250.1 446.6L250.6 448.4L251.2 445.9L251.7 447.2L252.2 446.0L252.8 445.0L253.3 444.6L253.8 446.1L254.2 444.2L254.7 445.9L255.1 444.8L255.6 446.9L256.0 443.7L256.5 445.8L256.9 445.8L257.4 445.0L257.8 443.2L258.3 443.9L258.7 443.4L259.2 442.8L259.6 443.7L260.1 442.3L260.5 442.4L260.9 443.0L261.4 441.4L261.8 440.7L262.2 441.0L262.7 439.9L263.1 437.6L263.5 439.2L263.9 439.3L264.3 437.8L264.7 436.7L265.1 439.0L265.6 437.4L266.0 438.5L266.4 438.0L266.8 438.8L267.2 437.4L267.6 437.5L268.0 437.7L268.4 435.5L268.8 436.7L269.1 436.5L269.5 432.8L269.9 433.2L270.2 434.2L270.6 435.5L271.0 432.8L271.3 431.3L271.7 430.6L272.0 432.2L272.3 431.6L272.6 430.3L272.9 430.8L273.2 429.7L273.5 430.9L273.7 427.6L273.9 428.2L274.2 429.5L274.4 427.1L274.6 426.4L274.7 426.5L274.9 428.4L275.1 426.2L275.3 427.0L275.5 424.0L275.7 424.3L276.0 424.7L276.2 423.7L276.4 422.4L276.6 420.0L276.9 422.5L277.1 422.3L277.3 421.5L277.5 418.7L277.8 418.5L278.0 418.9L278.3 418.0L278.6 419.9L278.8 417.1L279.1 417.4L279.4 415.9L279.5 414.8L279.7 417.4L279.8 416.0L280.0 414.6L280.2 414.9L280.3 411.9L280.5 415.5L280.6 412.1L280.8 410.6L280.9 411.0L281.1 411.9L281.2 411.2L281.4 411.4L281.5 411.0L281.7 409.7L281.8 410.2L281.9 406.6L282.1 408.6L282.2 408.2L282.3 407.5L282.4 406.5L282.5 405.6L282.7 405.0L282.8 403.3L282.9 404.0L283.0 405.3L283.1 405.3L283.2 402.7L283.3 402.1L283.4 401.7L283.5 401.6L283.5 401.2L283.6 401.2L283.7 401.8L283.8 397.5L283.9 398.0L284.0 398.2L284.1 398.1L284.2 398.1L284.3 399.1L284.4 395.7L284.5 396.9L284.6 395.6L284.7 395.3L284.8 395.1L284.8 395.2L284.9 393.9L285.0 392.1L285.1 393.3L285.3 392.8L285.4 390.1L285.5 391.8L285.6 390.7L285.7 390.1L285.9 389.9L286.0 391.3L286.1 387.1L286.3 388.7L286.4 386.0L286.6 387.6L286.7 388.1L286.9 384.6L287.1 387.3L287.2 386.1L287.4 384.9L287.5 384.3L287.7 383.9L287.8 383.6L287.9 383.0L288.0 383.7L288.1 383.0L288.3 380.7L288.4 382.3L288.5 382.7L288.6 381.9L288.7 380.0L288.8 377.4L289.0 378.1L289.1 378.0L289.2 377.5L289.3 375.5L289.4 377.2L289.5 377.0L289.7 374.1L289.8 374.2L289.9 373.5L290.0 374.2L290.1 374.9L290.2 370.8L290.4 374.3L290.5 373.2L290.6 370.2L290.7 372.9L290.9 371.9L291.0 370.7L291.1 370.0L291.2 368.2L291.3 369.2L291.5 367.3L291.6 367.8L291.7 368.4L291.8 366.3L292.0 365.5L292.1 366.3L292.2 366.3L292.3 365.8L292.4 364.0L292.6 365.3L292.7 365.0L292.8 362.4L292.9 362.9L293.1 359.7L293.2 361.0L293.3 359.5L293.4 360.3L293.5 359.0L293.7 356.6L293.8 359.3L293.9 357.1L294.0 359.0L294.2 358.9L294.3 357.5L294.4 356.3L294.6 356.1L294.8 353.7L295.0 354.9L295.2 355.4L295.4 354.6L295.5 352.2L295.7 354.6L295.9 353.1L296.1 351.0L296.3 352.1L296.4 350.0L296.6 350.0L296.7 350.1L296.8 351.6L296.9 351.8L297.1 346.9L297.2 348.0L297.3 347.4L297.3 347.8L297.4 346.9L297.5 345.3L297.6 345.8L297.7 344.3L297.8 343.6L297.9 344.6L298.0 343.7L298.1 342.4L298.2 343.2L298.4 341.5L298.5 340.6L298.7 340.8L298.8 341.1L299.0 339.2L299.1 341.0L299.2 338.7L299.3 338.8L299.4 338.9L299.5 337.6L299.6 336.5L299.6 336.3L299.6 337.0L299.6 336.7L299.5 335.5L299.4 333.7L299.4 332.7L299.3 332.6L299.4 332.2L299.6 332.4L299.8 331.6L300.1 330.3L300.4 331.5L300.8 329.4L301.1 329.8L301.4 328.5L301.7 330.1L302.0 329.0L302.3 328.3L302.7 328.9L303.0 328.3L303.3 325.5L303.6 326.6L303.9 324.8L304.3 324.7L304.6 324.4L304.9 322.9L305.2 322.7L305.5 324.0L306.1 323.8L306.5 324.6L307.0 324.5L307.2 324.6L307.4 325.1L307.6 325.6L307.7 325.6L307.9 327.1L308.2 326.6L308.4 327.2L308.6 327.1L308.7 329.2L308.9 328.8L309.1 329.7L309.3 330.5L309.5 329.9L309.7 331.6L309.9 332.0L310.1 332.4L310.3 331.0L310.4 334.7L310.6 334.7L310.7 335.3L310.8 336.9L310.9 334.5L311.0 338.2L311.1 336.4L311.2 338.1L311.3 339.0L311.4 337.1L311.4 339.1L311.5 338.7L311.6 340.4L311.7 338.9L311.8 342.8L311.8 342.0L311.9 341.8L312.0 341.6L312.1 344.5L312.2 343.0L312.3 344.9L312.4 343.3L312.5 345.6L312.6 343.5L312.7 346.4L312.8 345.4L312.9 345.8L312.9 348.4L313.0 348.6L313.1 347.7L313.3 348.0L313.4 350.5L313.5 348.2L313.6 350.1L313.7 350.0L313.8 351.3L313.9 351.7L314.1 352.1L314.2 351.4L314.3 353.5L314.4 354.3L314.6 353.8L314.7 356.6L314.8 354.8L315.0 355.8L315.1 358.4L315.2 356.5L315.3 357.1L315.5 356.2L315.6 358.3L315.7 358.2L315.8 359.5L315.9 358.5L316.0 361.5L316.1 361.3L316.2 362.2L316.3 361.4L316.4 360.4L316.5 363.1L316.6 363.2L316.7 363.2L316.8 366.0L316.9 365.0L317.0 365.3L317.1 366.1L317.2 366.5L317.3 367.0L317.4 368.0L317.6 367.8L317.7 367.8L317.9 368.0L318.1 369.7L318.2 370.6L318.4 371.5L318.6 370.3L318.7 370.1L318.9 370.6L319.1 374.1L319.3 373.5L319.5 373.2L320.0 373.4L320.6 376.2L321.1 374.7L321.8 374.4L322.4 372.6L322.7 374.2L323.0 372.2L323.3 371.4L323.6 373.3L323.9 371.8L324.2 371.7L324.5 368.8L324.8 369.5L325.2 368.5L325.5 369.2L325.8 368.4L326.1 368.0L326.4 366.8L326.8 368.7L327.1 365.3L327.4 366.7L327.8 365.8L328.1 366.5L328.5 363.9L328.8 365.7L329.1 363.3L329.5 364.2L329.8 363.4L330.3 365.8L330.9 361.5L331.4 362.0L332.0 360.6L332.5 361.3L333.0 362.1L333.5 362.0L334.0 361.6L334.5 361.9L335.0 362.7L335.5 363.4L335.9 365.5L336.4 364.7L336.7 364.5L337.0 364.6L337.3 366.1L337.6 367.2L337.9 366.0L338.2 367.8L338.5 367.8L338.8 365.4L339.1 370.3L339.4 369.7L339.7 367.6L340.0 367.4L340.3 370.2L340.6 369.8L340.8 371.4L341.1 370.8L341.4 373.0L341.7 371.5L342.0 373.1L342.3 373.8L342.5 373.2L342.8 374.8L343.0 374.4L343.3 374.6L343.5 374.7L343.8 372.8L344.1 374.6L344.3 378.1L344.6 376.2L344.8 376.3L345.1 377.5L345.3 378.1L345.4 381.0L345.6 377.9L345.7 378.8L345.8 380.7L345.9 378.6L346.0 379.2L346.2 380.1L346.3 381.2L346.4 383.6L346.5 384.5L346.6 384.2L346.7 386.3L346.9 382.7L347.0 386.4L347.1 385.1L347.3 386.9L347.4 386.6L347.6 385.9L347.8 389.2L348.0 390.0L348.2 389.2L348.4 388.5L348.6 392.1L348.8 387.8L349.1 391.0L349.3 390.3L349.6 390.9L349.8 393.2L350.1 392.1L350.4 394.1L350.6 393.8L350.9 395.5L351.2 395.4L351.5 395.8L351.8 395.3L352.1 395.7L352.3 395.1L352.6 397.1L352.9 397.8L353.2 396.7L353.5 398.3L353.8 397.4L354.0 398.6L354.3 397.9L354.6 399.6L354.9 401.2L355.2 400.7L355.5 399.0L355.8 402.0L356.1 401.4L356.4 403.5L356.7 403.3L357.1 403.7L357.4 403.0L357.7 403.9L358.0 403.4L358.3 404.7L358.6 405.8L358.9 403.8L359.2 405.5L359.5 407.1L359.8 405.6L360.1 407.0L360.4 408.1L360.7 408.4L361.0 409.1L361.2 409.7L361.5 410.7L361.8 409.5L362.1 410.9L362.4 411.2L362.7 410.0L363.0 411.3L363.3 413.1L363.6 413.2L363.8 414.0L364.1 413.7L364.4 414.2L364.7 415.7L364.9 413.0L365.2 413.7L365.5 416.0L365.7 416.6L365.9 417.4L366.2 417.8L366.4 417.6L366.9 416.8L367.3 419.1L367.7 419.3L368.0 418.4L368.4 418.0L368.7 419.7L369.0 421.2L369.3 420.8L369.7 422.4L370.0 421.1L370.4 421.1L370.8 421.5L371.1 422.5L371.5 423.0L371.9 424.0L372.2 423.2L372.6 422.4L373.1 423.3L373.5 424.9L373.7 424.9L374.0 425.5L374.3 425.1L374.5 425.7L374.8 426.1L375.1 426.4L375.3 427.7L375.6 429.7L375.9 428.4L376.2 429.1L376.5 427.4L376.8 430.5L377.1 430.1L377.3 432.3L377.6 431.9L377.9 433.3L378.2 431.3L378.5 433.5L378.8 434.1L379.0 433.2L379.3 435.3L379.6 433.1L379.9 435.2L380.2 434.9L380.5 436.7L380.7 434.2L381.0 437.6L381.3 439.0L381.6 436.5L381.9 439.1L382.2 437.6L382.4 439.9L382.7 440.7L383.0 438.7L383.2 442.1L383.5 440.7L383.7 441.3L384.0 442.5L384.2 443.2L384.5 442.7L384.7 443.8L385.0 444.2L385.2 442.8L385.5 444.8L385.7 445.2L386.0 445.4L386.2 446.6L386.5 445.7L386.7 444.9L387.0 447.9L387.2 448.0L387.5 448.1L387.7 448.0L388.0 451.3L388.3 449.5L388.5 448.8L388.8 450.6L389.1 451.3L389.4 449.7L389.6 452.3L389.9 449.8L390.2 452.1L390.5 453.8L390.7 454.5L391.0 454.2L391.3 455.1L391.6 453.8L391.8 455.2L392.1 456.2L392.4 454.1L392.7 456.7L393.0 457.5L393.2 458.5L393.5 458.6L393.8 459.3L394.1 459.6L394.4 458.2L394.7 458.7L394.9 459.5L395.2 459.2L395.5 461.9L395.8 463.3L396.1 463.3L396.4 462.6L396.6 463.9L396.9 463.2L397.2 464.1L397.5 465.3L397.9 463.4L398.2 464.3L398.6 465.9L398.9 469.0L399.3 467.0L399.6 467.6L400.0 468.7L400.3 467.0L400.6 465.6L401.0 467.0L401.3 467.5L401.6 470.8L401.9 469.0L402.4 469.4L402.9 469.8L403.4 470.2L403.9 470.7L404.3 471.2L404.7 472.6L405.1 471.8L405.4 470.2L405.7 472.8" fill="none" stroke="#000" stroke-width="1.4" stroke-linejoin="round" stroke-linecap="round"/>
</svg></body></html>
